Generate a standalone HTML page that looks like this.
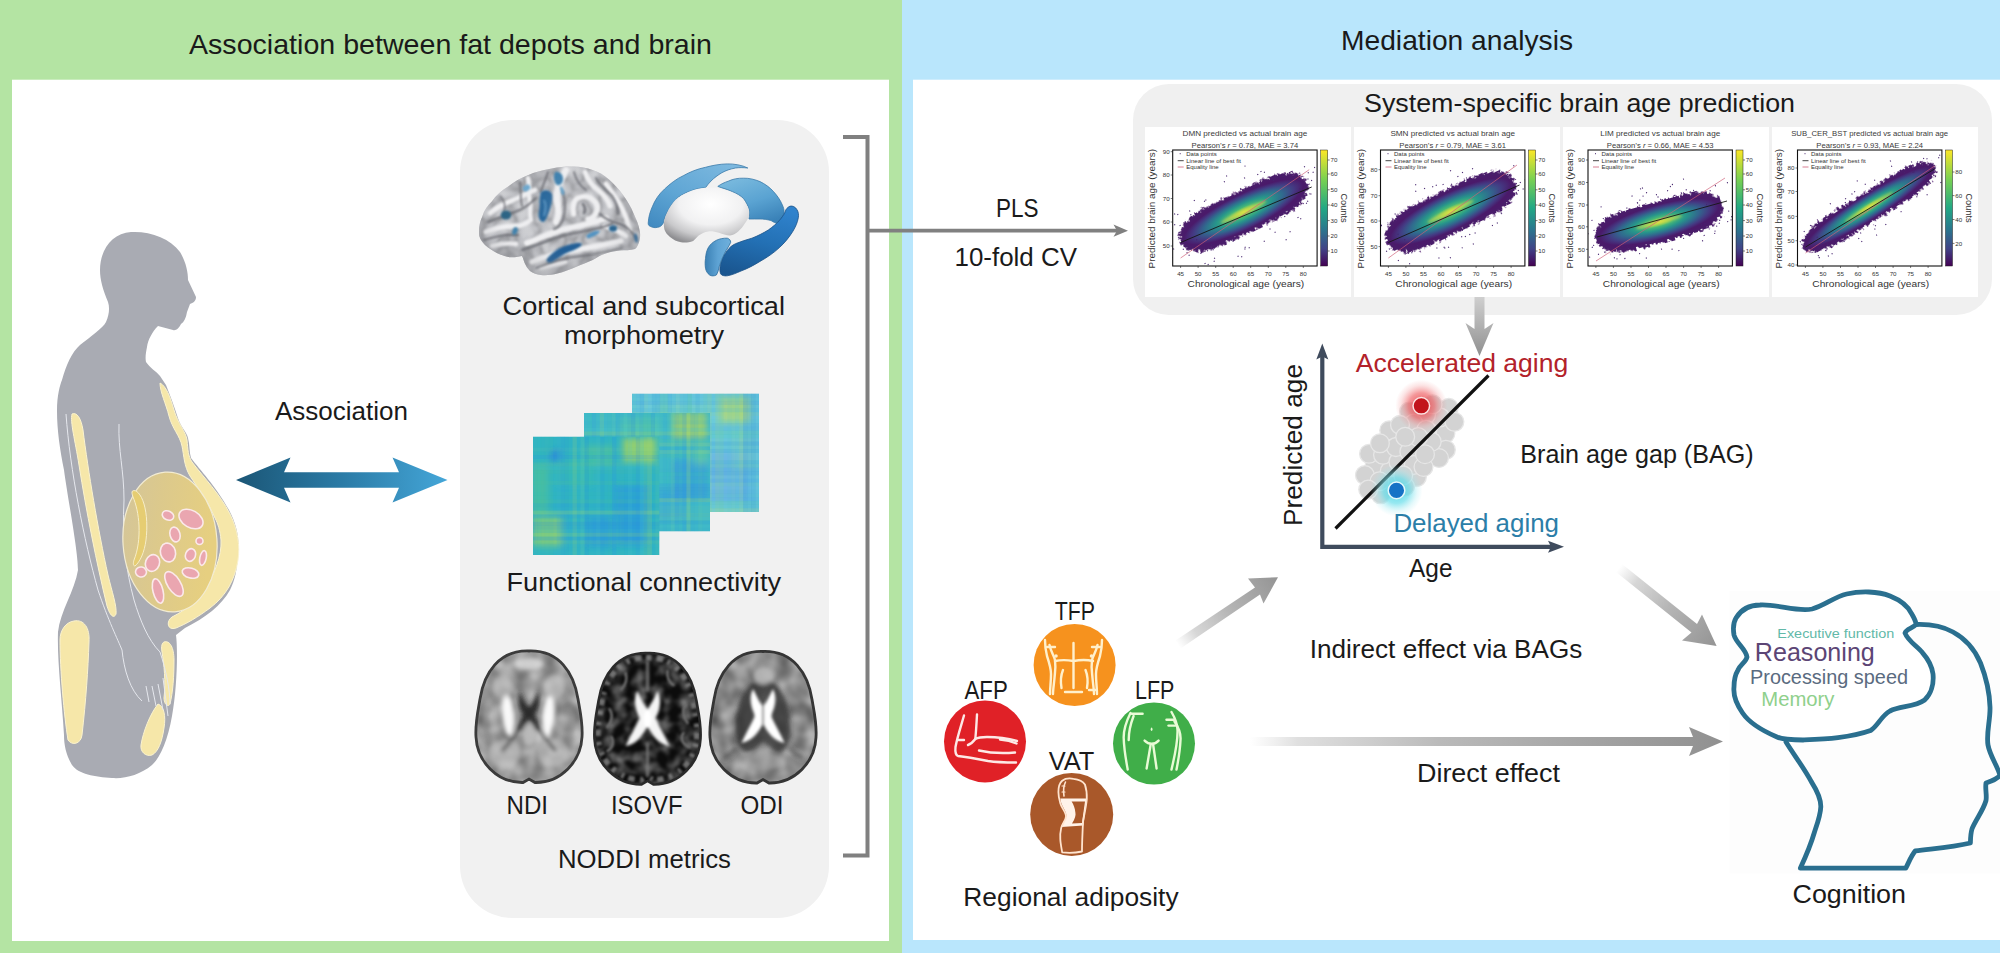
<!DOCTYPE html>
<html>
<head>
<meta charset="utf-8">
<title>Fat depots, brain age and cognition</title>
<style>
html,body{margin:0;padding:0;background:#fff;}
body{width:2000px;height:953px;overflow:hidden;font-family:"Liberation Sans",sans-serif;}
svg{display:block;position:absolute;left:0;top:0;}
text{font-family:"Liberation Sans",sans-serif;fill:#1a1a1a;}
</style>
</head>
<body>
<svg id="fig" width="2000" height="953" viewBox="0 0 2000 953">
<defs>
<linearGradient id="gArrow" x1="0" y1="0" x2="1" y2="0">
<stop offset="0" stop-color="#1b5676"/><stop offset="0.5" stop-color="#2b7ba6"/><stop offset="1" stop-color="#44a6d8"/>
</linearGradient>

<linearGradient id="gOrgan" x1="0" y1="0" x2="1" y2="0.3">
<stop offset="0" stop-color="#d3c59b"/><stop offset="0.45" stop-color="#dcc98c"/><stop offset="1" stop-color="#e6cf80"/>
</linearGradient>

<clipPath id="brainClip"><use href="#brainShape"/></clipPath>
<linearGradient id="gBrain" x1="0.2" y1="0" x2="0.6" y2="1">
<stop offset="0" stop-color="#d9dadd"/><stop offset="0.55" stop-color="#b9babf"/><stop offset="1" stop-color="#8f9197"/>
</linearGradient>
<filter id="fBrainTex" x="0" y="0" width="1" height="1" color-interpolation-filters="sRGB">
<feTurbulence type="turbulence" baseFrequency="0.06 0.05" numOctaves="2" seed="11" result="n"/>
<feColorMatrix in="n" type="matrix" values="1 0 0 0 0  1 0 0 0 0  1 0 0 0 0  0 0 0 0 1" result="g0"/>
<feComponentTransfer in="g0" result="g"><feFuncR type="table" tableValues="0.40 0.60 0.76 0.86 0.91 0.93 0.94"/><feFuncG type="table" tableValues="0.40 0.60 0.76 0.86 0.91 0.93 0.94"/><feFuncB type="table" tableValues="0.42 0.62 0.78 0.875 0.92 0.94 0.95"/></feComponentTransfer>
<feGaussianBlur in="g" stdDeviation="1.1"/>
</filter>
<filter id="fBlur1" x="-0.2" y="-0.2" width="1.4" height="1.4"><feGaussianBlur stdDeviation="0.9"/></filter>
<filter id="fBlur2" x="-0.2" y="-0.2" width="1.4" height="1.4"><feGaussianBlur stdDeviation="2"/></filter>
<linearGradient id="gCaud" x1="0" y1="1" x2="0.8" y2="0"><stop offset="0" stop-color="#3f88bf"/><stop offset="0.45" stop-color="#5ea5d4"/><stop offset="1" stop-color="#7cb8df"/></linearGradient>
<linearGradient id="gPut" x1="0.2" y1="0" x2="0.7" y2="1"><stop offset="0" stop-color="#7abade"/><stop offset="0.55" stop-color="#5aa3d2"/><stop offset="1" stop-color="#3a82b8"/></linearGradient>
<radialGradient id="gThal" cx="0.55" cy="0.3" r="0.75"><stop offset="0" stop-color="#ffffff"/><stop offset="0.5" stop-color="#f1f1f2"/><stop offset="0.78" stop-color="#c9c9cb"/><stop offset="1" stop-color="#8f8f92"/></radialGradient>
<linearGradient id="gHipp" x1="0.3" y1="1" x2="0.6" y2="0"><stop offset="0" stop-color="#1a5690"/><stop offset="0.5" stop-color="#2370b4"/><stop offset="1" stop-color="#2f82cc"/></linearGradient>
<linearGradient id="gAmy" x1="0" y1="0" x2="1" y2="0"><stop offset="0" stop-color="#3a80b4"/><stop offset="0.5" stop-color="#5ea3d4"/><stop offset="1" stop-color="#6fb0dc"/></linearGradient>

<radialGradient id="gBrainShade" cx="0.5" cy="0.36" r="0.6"><stop offset="0" stop-color="#ffffff" stop-opacity="0.12"/><stop offset="0.6" stop-color="#9a9ca2" stop-opacity="0"/><stop offset="1" stop-color="#5e6066" stop-opacity="0.34"/></radialGradient>
<filter id="fBlurM" x="-0.02" y="-0.02" width="1.04" height="1.04"><feGaussianBlur stdDeviation="0.6"/></filter>
<filter id="fBlur3" x="-0.5" y="-0.5" width="2" height="2"><feGaussianBlur stdDeviation="3.2"/></filter>
<clipPath id="cM1"><rect x="632" y="393.5" width="127" height="118.5"/></clipPath>
<clipPath id="cM2"><rect x="584" y="413" width="126" height="118.5"/></clipPath>
<clipPath id="cM3"><rect x="533" y="436.5" width="126.5" height="118.5"/></clipPath>
<path id="egg" d="M0,-66 C30,-67 45,-44 49,-18 C51,-6 54,6 53,20 C52,44 32,66 6,65.5 L0,62 L-6,65.5 C-32,66 -52,44 -53,20 C-54,6 -51,-6 -49,-18 C-45,-44 -30,-67 0,-66 Z"/>
<clipPath id="eggClip"><use href="#egg"/></clipPath>
<path id="ventX" d="M-10,-24 C-6,-16 -3,-9 0,-6 C3,-9 6,-16 10,-24 C15,-16 12,-4 8,3 C12,12 18,22 22,31 C12,30 4,20 0,11 C-4,20 -12,30 -22,31 C-18,22 -12,12 -8,3 C-12,-4 -15,-16 -10,-24 Z"/>
<filter id="fMriTex" x="0" y="0" width="1" height="1" color-interpolation-filters="sRGB">
<feTurbulence type="fractalNoise" baseFrequency="0.07" numOctaves="2" seed="3" result="n"/>
<feColorMatrix in="n" type="matrix" values="1.6 0 0 0 -0.3  1.6 0 0 0 -0.3  1.6 0 0 0 -0.3  0 0 0 0 1" result="c"/><feGaussianBlur in="c" stdDeviation="2.2"/>
</filter>
<filter id="fMriTex2" x="0" y="0" width="1" height="1" color-interpolation-filters="sRGB">
<feTurbulence type="fractalNoise" baseFrequency="0.09" numOctaves="2" seed="8" result="n"/>
<feColorMatrix in="n" type="matrix" values="2.2 0 0 0 -0.85  2.2 0 0 0 -0.85  2.2 0 0 0 -0.85  0 0 0 0 1" result="c"/><feGaussianBlur in="c" stdDeviation="1.6"/>
</filter>
<filter id="fBlur05" x="-0.1" y="-0.1" width="1.2" height="1.2"><feGaussianBlur stdDeviation="0.6"/></filter>

<linearGradient id="gDown" x1="0" y1="0" x2="0" y2="1"><stop offset="0" stop-color="#cfcfcf"/><stop offset="0.5" stop-color="#b0b0b0"/><stop offset="1" stop-color="#8f8f8f"/></linearGradient>
<linearGradient id="gInd1" gradientUnits="userSpaceOnUse" x1="1178" y1="645" x2="1278" y2="577"><stop offset="0" stop-color="#d8d8d8" stop-opacity="0"/><stop offset="0.18" stop-color="#d2d2d2" stop-opacity="0.9"/><stop offset="0.5" stop-color="#b6b6b6"/><stop offset="1" stop-color="#949494"/></linearGradient>
<linearGradient id="gInd2" gradientUnits="userSpaceOnUse" x1="1619" y1="568" x2="1716" y2="646"><stop offset="0" stop-color="#d8d8d8" stop-opacity="0"/><stop offset="0.18" stop-color="#d2d2d2" stop-opacity="0.9"/><stop offset="0.5" stop-color="#b6b6b6"/><stop offset="1" stop-color="#949494"/></linearGradient>
<linearGradient id="gDir" gradientUnits="userSpaceOnUse" x1="1250" y1="0" x2="1723" y2="0"><stop offset="0" stop-color="#e0e0e0" stop-opacity="0"/><stop offset="0.1" stop-color="#dcdcdc" stop-opacity="0.9"/><stop offset="0.4" stop-color="#bababa"/><stop offset="1" stop-color="#909090"/></linearGradient>
<radialGradient id="gGlowR"><stop offset="0" stop-color="#e8383e" stop-opacity="0.95"/><stop offset="0.5" stop-color="#ee5a5e" stop-opacity="0.62"/><stop offset="0.8" stop-color="#f28a8c" stop-opacity="0.22"/><stop offset="1" stop-color="#f28a8c" stop-opacity="0"/></radialGradient>
<radialGradient id="gGlowB"><stop offset="0" stop-color="#4ed6e6" stop-opacity="1"/><stop offset="0.5" stop-color="#6adeea" stop-opacity="0.7"/><stop offset="0.8" stop-color="#9ae8f0" stop-opacity="0.25"/><stop offset="1" stop-color="#9ae8f0" stop-opacity="0"/></radialGradient>

<clipPath id="cS0"><rect x="1172.7" y="150" width="144.4" height="116"/></clipPath>
<clipPath id="cS1"><rect x="1380.5" y="150" width="144.4" height="116"/></clipPath>
<clipPath id="cS2"><rect x="1588" y="150" width="144.4" height="116"/></clipPath>
<clipPath id="cS3"><rect x="1797.5" y="150" width="144.4" height="116"/></clipPath>
<radialGradient id="gVir" cx="0.5" cy="0.5" r="0.5">
<stop offset="0" stop-color="#cfdc46"/><stop offset="0.1" stop-color="#9ad24c"/><stop offset="0.26" stop-color="#46b877"/><stop offset="0.46" stop-color="#27958b"/><stop offset="0.66" stop-color="#31688e"/><stop offset="0.84" stop-color="#443a83"/><stop offset="1" stop-color="#4a1a6a"/></radialGradient>
<linearGradient id="gVirBar" x1="0" y1="0" x2="0" y2="1"><stop offset="0" stop-color="#fde725"/><stop offset="0.25" stop-color="#7ad151"/><stop offset="0.5" stop-color="#22a884"/><stop offset="0.68" stop-color="#2a788e"/><stop offset="0.85" stop-color="#414487"/><stop offset="1" stop-color="#440154"/></linearGradient>
<filter id="fRag" x="-0.2" y="-0.4" width="1.4" height="1.8"><feTurbulence type="fractalNoise" baseFrequency="0.35" numOctaves="2" seed="5" result="t"/><feDisplacementMap in="SourceGraphic" in2="t" scale="9" xChannelSelector="R" yChannelSelector="G"/></filter>

<filter id="fBlur15" x="-0.3" y="-0.3" width="1.6" height="1.6"><feGaussianBlur stdDeviation="1.5"/></filter>
<!--DEFS-->
</defs>

<!-- ===== panel backgrounds ===== -->
<g id="panels">
<rect x="0" y="0" width="902" height="953" fill="#b4e4a3"/>
<rect x="902" y="0" width="1098" height="953" fill="#b9e6fc"/>
<rect x="12" y="79.7" width="877" height="861.3" fill="#ffffff"/>
<rect x="913" y="79.7" width="1087" height="860.3" fill="#ffffff"/>
</g>

<!-- ===== headings ===== -->
<g id="headings">
<text x="189" y="54.4" font-size="28" textLength="523" lengthAdjust="spacingAndGlyphs">Association between fat depots and brain</text>
<text x="1341" y="50" font-size="28" textLength="232" lengthAdjust="spacingAndGlyphs">Mediation analysis</text>
</g>

<!-- ===== LEFT PANEL ===== -->
<g id="left">
<!-- body silhouette -->
<g id="body">
<path id="bodyshape" fill="#a9abb3" d="M131,232 C150,231 170,238 180,252 C186,262 188,272 188,280 L196,297 C196,301 193,303 190,304 L187,312 C186,318 184,322 181,324 C179,328 176,331 173,330 L158,326 C152,332 148,340 147,347 C146,352 145,358 146,362 C150,368 156,371 160,376 L166,385 C172,400 176,412 179,421 C182,428 187,433 188,438 C190,445 189,452 191,458 C200,470 215,485 229,510 C237,525 240,540 238,555 C237,570 235,580 230,590 C222,605 205,618 185,628 L176,635 C178,650 177,690 172,716 C168,740 160,758 152,765 C140,775 125,779 112,778 C95,777 78,774 72,765 C66,755 64,745 64,735 C62,700 57,660 58,632 C60,612 75,590 78,570 C78,550 68,500 64,470 C60,450 57,430 57,411 C57,395 60,385 62,380 C66,365 72,352 80,345 C90,337 103,328 106,322 C109,315 110,308 108,302 C103,290 100,280 100,270 C100,250 112,233 131,232 Z"/>
<!-- fat strips -->
<g fill="#f6e7a9" stroke="#fbf3cf" stroke-width="1">
<path d="M72,414 C77,412 81,418 83,430 C88,470 98,530 108,575 C112,592 117,606 116,614 C114,619 110,616 107,606 C97,565 86,510 79,465 C75,440 70,422 72,414 Z"/>
<path d="M160,383 C166,386 170,396 174,410 C178,424 186,432 187,440 C188,450 188,456 192,462 C204,478 220,494 230,514 C238,530 240,546 238,560 C235,580 226,596 210,608 C198,617 186,624 176,628 C167,631 166,621 172,617 C186,610 198,600 206,588 C214,574 222,556 221,540 C220,530 218,524 215,518 C208,502 198,488 190,476 C184,466 184,456 182,446 C180,436 172,428 169,416 C166,404 160,392 160,383 Z"/>
<path d="M74,621 C84,619 90,628 89,642 C88,670 86,700 82,735 C81,744 72,746 68,740 C64,715 60,670 60,640 C60,630 66,622 74,621 Z"/>
<path d="M158,704 C164,706 166,716 164,728 C162,742 158,752 152,755 C146,757 140,752 141,745 C143,732 150,714 158,704 Z"/>
<path d="M164,642 C170,640 174,648 174,660 C174,676 173,692 170,704 C168,708 164,704 164,698 C166,682 164,664 162,652 C161,646 162,643 164,642 Z"/>
</g>
<!-- thin white contour lines -->
<g fill="none" stroke="#e6e8ee" stroke-width="1">
<path d="M66,414 C70,470 84,540 98,590 C108,620 118,640 122,650"/>
<path d="M119,424 C118,450 124,470 124,500 C122,540 126,570 134,600 C140,620 148,640 160,652 C166,670 170,690 170,704"/>
<path d="M122,650 C124,670 130,690 142,701 M146,686 L149,702 M152,686 L156,706 M158,684 L163,710 M163,678 L168,716"/>
</g>
<!-- visceral cavity -->
<ellipse cx="170" cy="542" rx="47" ry="70" fill="url(#gOrgan)" stroke="#f3ecd2" stroke-width="1.2" transform="rotate(-4 170 542)"/>
<path d="M132.5,491 C136,489 141,494 144,504 C147,514 147.5,528 146,540 C144.5,552 140,562 135,566 C133,566 133,563 134,560 C138,550 139.5,538 139,526 C138.5,514 136,504 133,497 C132,494 131.5,492 132.5,491 Z" fill="#e6cd72" stroke="#f7eec8" stroke-width="1"/>
<g fill="#eaa6b0" stroke="#fbe9ea" stroke-width="1.6">
<ellipse cx="191" cy="519" rx="13" ry="8.5" transform="rotate(30 191 519)"/>
<ellipse cx="168" cy="515.5" rx="6" ry="4.5" transform="rotate(25 168 515.5)"/>
<ellipse cx="175" cy="534.5" rx="5" ry="7.5" transform="rotate(-15 175 534.5)"/>
<ellipse cx="199.5" cy="541" rx="3.5" ry="3.5"/>
<ellipse cx="168" cy="552.5" rx="7.5" ry="9.5" transform="rotate(-15 168 552.5)"/>
<ellipse cx="190.5" cy="555" rx="5" ry="6.5" transform="rotate(20 190.5 555)"/>
<ellipse cx="203" cy="558" rx="3.2" ry="7.5" transform="rotate(12 203 558)"/>
<ellipse cx="152.5" cy="563" rx="7" ry="8.5" transform="rotate(20 152.5 563)"/>
<ellipse cx="141" cy="572" rx="5.5" ry="5" transform="rotate(10 141 572)"/>
<ellipse cx="190.5" cy="573" rx="8.5" ry="5" transform="rotate(15 190.5 573)"/>
<ellipse cx="174" cy="584" rx="6.5" ry="14" transform="rotate(-32 174 584)"/>
<ellipse cx="158" cy="591" rx="5" ry="12.5" transform="rotate(-14 158 591)"/>
</g>
</g>

<!-- association arrow -->
<text x="275" y="420" font-size="25" textLength="133" lengthAdjust="spacingAndGlyphs">Association</text>
<path fill="url(#gArrow)" d="M236,480 L290.5,457.5 L284,472.3 L399,472.3 L392.5,457.5 L447.5,480 L392.5,502.5 L399,487.7 L284,487.7 L290.5,502.5 Z"/>

<!-- grey rounded container -->
<rect x="460" y="120" width="369" height="798" rx="52" ry="52" fill="#f1f1f1"/>

<!-- cortical brain -->
<g id="cortex">
<path id="brainShape" d="M479,231.5 C479,226 480,221 482.3,216.4 C484,210 488,205 491.8,201.4 C496,195 502,190 508.2,186.4 C514,182 520,178 527.3,175.5 C535,172 543,170 551.8,168.6 C559,167 566,166.5 573.6,166.6 C580,166.6 587,168 592.7,170 C599,172 604,175 609,179.5 C614,184 619,189 622.7,194.5 C627,200 631,207 633.6,213.6 C636,219 639,225 639.8,231.4 C640.5,235 640,239 639,242.3 C638,245 637,247.5 635,249 C630,250.5 625,250 620,250.5 C615,251 611,252 606.4,253.2 C601,255 597,257.5 592.7,260 C587,262.5 582,264.5 576.4,266.8 C570,269.5 564,272 557.3,273.6 C552,275 546,275.5 540.9,275 C537,274.5 533,273 530,270.9 C527.5,268.5 526,266 524.5,262.7 C523.5,260 523,257.5 521.8,255.9 C518,256.5 514.5,257.5 510.9,257.3 C506,257 501.5,255 497.3,253.2 C493,251 489,248.5 485,245 C482.5,242.5 480.5,240 479.5,236.8 C479,235 479,233 479,231.5 Z" fill="#c0c1c5"/>
<g clip-path="url(#brainClip)">
<rect x="470" y="160" width="180" height="125" filter="url(#fBrainTex)" opacity="0.45"/>
<g fill="none" stroke="#f0f0f2" stroke-linecap="round" stroke-linejoin="round" filter="url(#fBlur1)">
<path d="M566,170 C560,180 556,190 557,200 C558,208 560,214 556,222" stroke-width="6.5"/>
<path d="M573.6,214 C572,206 574,200 578,198 C583,195.5 589,196 592,199 C597,203 599,208 596,213 C594,217 591,219 588,219" stroke-width="5.5"/>
<path d="M527,243 C540,238 552,232 565,229 C580,226 594,223 606,218" stroke-width="6"/>
<path d="M532,262 C546,256 560,252 576,250 C592,247 606,245 621,241" stroke-width="5.5"/>
<path d="M490,213 C498,206 508,202 518,198 C524,195 530,192 535,190" stroke-width="5"/>
<path d="M486,232 C496,228 506,226 516,226 C521,226 525,224 528,222" stroke-width="5"/>
<path d="M492,246 C500,244 508,243 516,244" stroke-width="4.5"/>
<path d="M528,178 C530,186 528,194 530,202 C531,208 529,214 531,220" stroke-width="4.5"/>
<path d="M585,172 C588,180 592,186 598,190 C604,195 608,200 610,206" stroke-width="5"/>
<path d="M606,184 C612,192 618,200 622,208 C625,214 628,222 630,230" stroke-width="5"/>
<path d="M604,226 C610,228 618,230 626,236" stroke-width="4.5"/>
<path d="M541,268 C550,266 558,264 566,262" stroke-width="4"/>
</g>
<g fill="none" stroke="#62636a" stroke-linecap="round" stroke-linejoin="round" opacity="0.85" filter="url(#fBlur1)">
<path d="M548,172 C546,180 542,186 541,192" stroke-width="2"/>
<path d="M563,192 C565,200 566,210 563,220 C561,224 558,228 554,229" stroke-width="2.2"/>
<path d="M583,204 C585,207 586,210 584,213" stroke-width="3"/>
<path d="M522,250 C536,246 548,240 562,236 C578,232 596,230 612,224" stroke-width="2.2"/>
<path d="M536,268 C550,262 566,257 582,256 C596,254 610,251 622,248" stroke-width="1.8"/>
<path d="M488,222 C498,218 510,214 520,210 C526,207 532,202 536,198" stroke-width="2"/>
<path d="M484,240 C494,237 506,234 518,235" stroke-width="2"/>
<path d="M520,182 C521,190 520,198 522,206" stroke-width="1.8"/>
<path d="M596,178 C600,186 606,190 612,196 C616,202 618,208 618,214" stroke-width="2"/>
<path d="M574,172 C576,180 580,186 586,190" stroke-width="1.8"/>
<path d="M600,214 C606,220 612,222 620,224 C626,226 632,232 636,238" stroke-width="2"/>
<path d="M500,196 C504,200 506,206 504,212" stroke-width="1.6"/>
</g>
<g filter="url(#fBlur1)">
<path d="M541,192 C545,189 550,190 552,194 C553,200 551,206 549,212 C547,217 546,221 543,222 C539,221 538,216 539,211 C540,205 539,198 541,192 Z" fill="#1d5f96"/>
<path d="M544,200 C546,204 546,210 544,216" stroke="#4f93c4" stroke-width="1.6" fill="none"/>
<path d="M555,172 C559,171 563,174 563,179 C563,183 560,186 557,185 C554,183 553,176 555,172 Z" fill="#3a7fae"/>
<path d="M560,186 C563,187 565,191 564,195 C562,196 560,192 560,186 Z" fill="#5c9cc6"/>
<ellipse cx="526.5" cy="188" rx="4" ry="3" fill="#6ba7cf" transform="rotate(-30 526.5 188)"/>
<ellipse cx="506" cy="215" rx="5.2" ry="4.6" fill="#2a6384"/>
<ellipse cx="515" cy="231" rx="2.5" ry="4" fill="#3f82ad" transform="rotate(20 515 231)"/>
<path d="M547,259 C552,252 560,247 570,244.5 C575,243 580,242.5 582,244 C580,248 574,250 568,252.5 C562,255 556,260 551,262.5 C548,263 546,261.5 547,259 Z" fill="#225f96"/>
<path d="M586,236 C590,232 596,230 600,231 C598,235 592,237 588,238.5 Z" fill="#4f93c4"/>
<ellipse cx="613" cy="228.5" rx="4" ry="3.2" fill="#2a6590"/>
<path d="M634.5,233 C637,234 638.5,238 637.5,243 C635,243 633.5,238 634.5,233 Z" fill="#2e6ea2"/>
</g>
<rect x="470" y="160" width="180" height="125" fill="url(#gBrainShade)"/>
</g>
</g>

<!-- subcortical structures -->
<g id="subcort">
<path d="M648.2,223.2 C648.5,217 650,212 652.3,206.8 C655,200 659,194 664.6,189 C670,184 676,179 683.7,175.5 C690,172 697,169 705.5,167.3 C712,165.5 720,164 727.3,163.9 C734,163.8 742,165 747.8,168 C743,167.5 739,167.5 735.5,168 C730,169 726,170.5 721.9,172.7 C718,175 714,178 711,181 C709,183 707,185.5 705.5,187.7 C700,188 696,189 691.8,190.5 C686,192.5 682,194.5 678.2,197.3 C674,201 671,205 668.7,209.6 C666,214 664,219 663.2,223.2 C662,225.5 660,227 657.7,227.3 C655,228 652.5,227.5 650.9,226.6 C649,226 648.2,225 648.2,223.2 Z" fill="url(#gCaud)" stroke="#3a7aaa" stroke-width="0.8"/>
<path d="M717.8,186.4 C721,184 724.5,182.5 728.7,181 C733,179 738,178 743.7,178.2 C749,178 755,179.5 760,181.6 C765,184 770,187.5 773.7,191.8 C777,195.5 780,199.5 781.9,204 C783.5,207 784.5,210.5 784,213.7 C783,217.5 780,221 776.4,223.2 C774,222.5 772.5,221.5 771,220.5 C767,219.5 763.5,219 760,219 C756,219 752.5,219 749,219 C749.5,215.5 749.5,212.5 749,209.6 C748,205.5 746,202 743.7,198.7 C740.5,195.5 737,193.5 732.8,191.8 C728,189.5 722,188 717.8,186.4 Z" fill="url(#gPut)" stroke="#3a7aaa" stroke-width="0.8"/>
<path d="M663.9,223.2 C664.5,219 665.5,215.5 667.3,212.3 C669.5,207.5 672,203.5 675.5,200 C679.5,196.5 684,194 689,191.8 C694,189.5 700,188 705.5,187.7 C711,187.3 716.5,187.8 721.9,189 C728,190.5 733.5,192.8 738.2,196 C742,199 745.5,202.5 747.8,206.8 C749,209.5 749.5,212.5 749,215 C748.5,218 747,220.8 745,223.2 C743,226.5 741,229 738.2,231.4 C735.5,233.5 733,235 730,235.5 C726,235.5 722.5,234 719,232.8 C715.5,231.8 712,231 708.2,231.4 C704.5,232 701.5,233.5 698.7,235.5 C696.5,237.5 695,239.5 693.2,241 C689,242.5 685,243 681,242.3 C677,241.5 673,239.5 670,236.9 C667.5,235 665.5,232.5 664.6,230 C664,227.5 663.7,225.5 663.9,223.2 Z" fill="url(#gThal)"/>
<path d="M790,206.2 C792.5,205.5 795.5,207 796.9,209.6 C798.5,212 798.8,215 798.3,217.8 C797.5,222.5 795.5,227 792.8,231.4 C789,237.5 784.5,243 779.2,247.8 C773.5,253 767,257.5 760,261.4 C754,265 748,268.5 741,271 C736.5,273 732,275 727.3,275.8 C724.5,276.2 721.5,275.5 720.5,273.7 C719.5,270.5 719.8,267.5 720.5,264.2 C722,259 724,254.5 727.3,250.5 C729.5,247.5 732,245.3 735.5,243.7 C740.5,241.5 746,240 751.9,238.2 C757.5,236 763,233.3 768.3,230 C772.5,227 777,223.5 780.5,219.1 C783,216 785,213 786,209.6 C787,208 788.5,206.8 790,206.2 Z" fill="url(#gHipp)" stroke="#1b5288" stroke-width="0.8"/>
<path d="M705.5,258.7 C705.8,254.5 706.5,251 708.2,247.8 C710,244.5 713,242 716.4,240.3 C719.5,238.8 723.5,238 727.3,238.2 C729.5,238.8 730.7,240.5 730.7,242.3 C729,246.5 726.5,249.5 724.6,253.2 C722.5,257.5 720.5,262 719.1,266.9 C718.5,270 717.8,272.8 716.4,275 C714,276.2 711.5,276.2 709.6,275 C707.5,273.5 706,271 705.5,268.3 C705,265 705,261.5 705.5,258.7 Z" fill="url(#gAmy)" stroke="#2f6f9f" stroke-width="0.8"/>
</g>

<!-- functional connectivity matrices -->
<g id="fcmats">
<g clip-path="url(#cM1)"><rect x="632" y="393.5" width="127" height="118.5" fill="#6ecbdc"/>
<g filter="url(#fBlur3)">
<rect x="720.0" y="397.0" width="30" height="26" fill="#c6dc58" opacity="0.62"/>
<rect x="709.0" y="451.0" width="40" height="50" fill="#6aa8ea" opacity="0.55"/>
<rect x="655.0" y="405.0" width="50" height="30" fill="#7fd6b8" opacity="0.4"/>
<rect x="735.0" y="430.0" width="20" height="40" fill="#8fd8b0" opacity="0.35"/>
</g>
<rect x="632.0" y="393.5" width="4.3" height="118.5" fill="#35c2b4" opacity="0.11"/>
<rect x="632" y="393.5" width="127" height="4.0" fill="#2fa0d8" opacity="0.15"/>
<rect x="636.0" y="393.5" width="4.3" height="118.5" fill="#2b8fd8" opacity="0.08"/>
<rect x="632" y="397.2" width="127" height="4.0" fill="#3ab0d0" opacity="0.14"/>
<rect x="639.9" y="393.5" width="4.3" height="118.5" fill="#2a96e0" opacity="0.19"/>
<rect x="632" y="400.9" width="127" height="4.0" fill="#2b8fd8" opacity="0.17"/>
<rect x="643.9" y="393.5" width="4.3" height="118.5" fill="#a5d870" opacity="0.07"/>
<rect x="632" y="404.6" width="127" height="4.0" fill="#48c0a0" opacity="0.06"/>
<rect x="632" y="408.3" width="127" height="4.0" fill="#3ab0d0" opacity="0.19"/>
<rect x="651.8" y="393.5" width="4.3" height="118.5" fill="#2fa0d8" opacity="0.23"/>
<rect x="632" y="412.0" width="127" height="4.0" fill="#a5d870" opacity="0.1"/>
<rect x="655.8" y="393.5" width="4.3" height="118.5" fill="#2fa0d8" opacity="0.23"/>
<rect x="659.8" y="393.5" width="4.3" height="118.5" fill="#48c0a0" opacity="0.23"/>
<rect x="632" y="419.4" width="127" height="4.0" fill="#4fc8c8" opacity="0.08"/>
<rect x="663.8" y="393.5" width="4.3" height="118.5" fill="#48c0a0" opacity="0.23"/>
<rect x="632" y="423.1" width="127" height="4.0" fill="#2b8fd8" opacity="0.11"/>
<rect x="667.7" y="393.5" width="4.3" height="118.5" fill="#2fa0d8" opacity="0.21"/>
<rect x="632" y="426.8" width="127" height="4.0" fill="#2a96e0" opacity="0.15"/>
<rect x="671.7" y="393.5" width="4.3" height="118.5" fill="#3ab0d0" opacity="0.13"/>
<rect x="632" y="430.5" width="127" height="4.0" fill="#48c0a0" opacity="0.22"/>
<rect x="675.7" y="393.5" width="4.3" height="118.5" fill="#a5d870" opacity="0.08"/>
<rect x="632" y="434.2" width="127" height="4.0" fill="#35c2b4" opacity="0.2"/>
<rect x="679.6" y="393.5" width="4.3" height="118.5" fill="#3ab0d0" opacity="0.13"/>
<rect x="632" y="437.9" width="127" height="4.0" fill="#2fa0d8" opacity="0.07"/>
<rect x="683.6" y="393.5" width="4.3" height="118.5" fill="#3ab0d0" opacity="0.18"/>
<rect x="632" y="441.6" width="127" height="4.0" fill="#2b8fd8" opacity="0.24"/>
<rect x="687.6" y="393.5" width="4.3" height="118.5" fill="#48c0a0" opacity="0.23"/>
<rect x="632" y="445.3" width="127" height="4.0" fill="#3ab0d0" opacity="0.15"/>
<rect x="632" y="449.0" width="127" height="4.0" fill="#2fa0d8" opacity="0.22"/>
<rect x="695.5" y="393.5" width="4.3" height="118.5" fill="#2a96e0" opacity="0.13"/>
<rect x="703.4" y="393.5" width="4.3" height="118.5" fill="#74d2a0" opacity="0.15"/>
<rect x="632" y="460.2" width="127" height="4.0" fill="#3ab0d0" opacity="0.23"/>
<rect x="707.4" y="393.5" width="4.3" height="118.5" fill="#a5d870" opacity="0.16"/>
<rect x="632" y="463.9" width="127" height="4.0" fill="#48c0a0" opacity="0.13"/>
<rect x="632" y="467.6" width="127" height="4.0" fill="#2a96e0" opacity="0.16"/>
<rect x="715.3" y="393.5" width="4.3" height="118.5" fill="#a5d870" opacity="0.14"/>
<rect x="632" y="471.3" width="127" height="4.0" fill="#2b8fd8" opacity="0.17"/>
<rect x="719.3" y="393.5" width="4.3" height="118.5" fill="#74d2a0" opacity="0.21"/>
<rect x="632" y="475.0" width="127" height="4.0" fill="#4fc8c8" opacity="0.07"/>
<rect x="632" y="478.7" width="127" height="4.0" fill="#2a96e0" opacity="0.14"/>
<rect x="727.2" y="393.5" width="4.3" height="118.5" fill="#4fc8c8" opacity="0.1"/>
<rect x="632" y="482.4" width="127" height="4.0" fill="#74d2a0" opacity="0.12"/>
<rect x="731.2" y="393.5" width="4.3" height="118.5" fill="#74d2a0" opacity="0.11"/>
<rect x="735.2" y="393.5" width="4.3" height="118.5" fill="#4fc8c8" opacity="0.14"/>
<rect x="632" y="489.8" width="127" height="4.0" fill="#2fa0d8" opacity="0.08"/>
<rect x="739.2" y="393.5" width="4.3" height="118.5" fill="#a5d870" opacity="0.14"/>
<rect x="632" y="493.5" width="127" height="4.0" fill="#35c2b4" opacity="0.11"/>
<rect x="743.1" y="393.5" width="4.3" height="118.5" fill="#2b8fd8" opacity="0.23"/>
<rect x="632" y="497.2" width="127" height="4.0" fill="#2a96e0" opacity="0.1"/>
<rect x="747.1" y="393.5" width="4.3" height="118.5" fill="#2a96e0" opacity="0.19"/>
<rect x="632" y="500.9" width="127" height="4.0" fill="#48c0a0" opacity="0.18"/>
<rect x="751.1" y="393.5" width="4.3" height="118.5" fill="#2b8fd8" opacity="0.24"/>
<rect x="632" y="504.6" width="127" height="4.0" fill="#48c0a0" opacity="0.14"/>
<rect x="755.0" y="393.5" width="4.3" height="118.5" fill="#2a96e0" opacity="0.13"/>
<rect x="632" y="508.3" width="127" height="4.0" fill="#a5d870" opacity="0.18"/>
</g>
<g clip-path="url(#cM2)"><rect x="584" y="413" width="126" height="118.5" fill="#3fb9c8"/>
<g filter="url(#fBlur3)">
<rect x="672.5" y="413.0" width="34" height="26" fill="#c8d848" opacity="0.66"/>
<rect x="620.0" y="418.0" width="40" height="24" fill="#62cc9a" opacity="0.5"/>
<rect x="672.0" y="460.0" width="36" height="40" fill="#3a92e0" opacity="0.5"/>
<rect x="635.0" y="490.0" width="50" height="30" fill="#3a9ce0" opacity="0.4"/>
<rect x="692.0" y="445.0" width="16" height="20" fill="#7fd88a" opacity="0.4"/>
</g>
<rect x="587.9" y="413" width="4.2" height="118.5" fill="#35c2b4" opacity="0.12"/>
<rect x="584" y="416.7" width="126" height="4.0" fill="#4fc8c8" opacity="0.11"/>
<rect x="591.9" y="413" width="4.2" height="118.5" fill="#2a96e0" opacity="0.16"/>
<rect x="584" y="420.4" width="126" height="4.0" fill="#3ab0d0" opacity="0.17"/>
<rect x="599.8" y="413" width="4.2" height="118.5" fill="#a5d870" opacity="0.16"/>
<rect x="584" y="427.8" width="126" height="4.0" fill="#4fc8c8" opacity="0.22"/>
<rect x="584" y="431.5" width="126" height="4.0" fill="#a5d870" opacity="0.22"/>
<rect x="607.6" y="413" width="4.2" height="118.5" fill="#48c0a0" opacity="0.09"/>
<rect x="584" y="435.2" width="126" height="4.0" fill="#2b8fd8" opacity="0.06"/>
<rect x="611.6" y="413" width="4.2" height="118.5" fill="#74d2a0" opacity="0.15"/>
<rect x="584" y="438.9" width="126" height="4.0" fill="#48c0a0" opacity="0.18"/>
<rect x="615.5" y="413" width="4.2" height="118.5" fill="#2fa0d8" opacity="0.2"/>
<rect x="584" y="442.6" width="126" height="4.0" fill="#a5d870" opacity="0.2"/>
<rect x="619.4" y="413" width="4.2" height="118.5" fill="#2fa0d8" opacity="0.09"/>
<rect x="584" y="446.3" width="126" height="4.0" fill="#2fa0d8" opacity="0.18"/>
<rect x="623.4" y="413" width="4.2" height="118.5" fill="#4fc8c8" opacity="0.23"/>
<rect x="584" y="450.0" width="126" height="4.0" fill="#a5d870" opacity="0.18"/>
<rect x="627.3" y="413" width="4.2" height="118.5" fill="#2fa0d8" opacity="0.12"/>
<rect x="584" y="453.7" width="126" height="4.0" fill="#48c0a0" opacity="0.19"/>
<rect x="631.2" y="413" width="4.2" height="118.5" fill="#2b8fd8" opacity="0.23"/>
<rect x="639.1" y="413" width="4.2" height="118.5" fill="#2fa0d8" opacity="0.12"/>
<rect x="643.1" y="413" width="4.2" height="118.5" fill="#48c0a0" opacity="0.16"/>
<rect x="584" y="468.5" width="126" height="4.0" fill="#3ab0d0" opacity="0.12"/>
<rect x="647.0" y="413" width="4.2" height="118.5" fill="#48c0a0" opacity="0.13"/>
<rect x="584" y="472.2" width="126" height="4.0" fill="#35c2b4" opacity="0.2"/>
<rect x="650.9" y="413" width="4.2" height="118.5" fill="#2a96e0" opacity="0.22"/>
<rect x="584" y="476.0" width="126" height="4.0" fill="#35c2b4" opacity="0.07"/>
<rect x="654.9" y="413" width="4.2" height="118.5" fill="#4fc8c8" opacity="0.17"/>
<rect x="584" y="479.7" width="126" height="4.0" fill="#35c2b4" opacity="0.2"/>
<rect x="658.8" y="413" width="4.2" height="118.5" fill="#4fc8c8" opacity="0.1"/>
<rect x="584" y="483.4" width="126" height="4.0" fill="#2a96e0" opacity="0.14"/>
<rect x="662.8" y="413" width="4.2" height="118.5" fill="#2a96e0" opacity="0.07"/>
<rect x="584" y="487.1" width="126" height="4.0" fill="#2b8fd8" opacity="0.18"/>
<rect x="666.7" y="413" width="4.2" height="118.5" fill="#35c2b4" opacity="0.06"/>
<rect x="584" y="490.8" width="126" height="4.0" fill="#2a96e0" opacity="0.13"/>
<rect x="670.6" y="413" width="4.2" height="118.5" fill="#74d2a0" opacity="0.19"/>
<rect x="584" y="494.5" width="126" height="4.0" fill="#2a96e0" opacity="0.13"/>
<rect x="674.6" y="413" width="4.2" height="118.5" fill="#2b8fd8" opacity="0.09"/>
<rect x="584" y="498.2" width="126" height="4.0" fill="#a5d870" opacity="0.23"/>
<rect x="678.5" y="413" width="4.2" height="118.5" fill="#35c2b4" opacity="0.11"/>
<rect x="584" y="501.9" width="126" height="4.0" fill="#4fc8c8" opacity="0.14"/>
<rect x="682.4" y="413" width="4.2" height="118.5" fill="#2a96e0" opacity="0.22"/>
<rect x="584" y="505.6" width="126" height="4.0" fill="#74d2a0" opacity="0.15"/>
<rect x="686.4" y="413" width="4.2" height="118.5" fill="#a5d870" opacity="0.21"/>
<rect x="584" y="509.3" width="126" height="4.0" fill="#74d2a0" opacity="0.15"/>
<rect x="690.3" y="413" width="4.2" height="118.5" fill="#2fa0d8" opacity="0.15"/>
<rect x="584" y="513.0" width="126" height="4.0" fill="#a5d870" opacity="0.11"/>
<rect x="694.2" y="413" width="4.2" height="118.5" fill="#3ab0d0" opacity="0.18"/>
<rect x="584" y="516.7" width="126" height="4.0" fill="#74d2a0" opacity="0.18"/>
<rect x="698.2" y="413" width="4.2" height="118.5" fill="#74d2a0" opacity="0.09"/>
<rect x="584" y="520.4" width="126" height="4.0" fill="#2b8fd8" opacity="0.15"/>
<rect x="584" y="527.8" width="126" height="4.0" fill="#2fa0d8" opacity="0.07"/>
</g>
<g clip-path="url(#cM3)"><rect x="533" y="436.5" width="126.5" height="118.5" fill="#2fb3c4"/>
<g filter="url(#fBlur3)">
<rect x="550.5" y="450.5" width="11" height="11" fill="#2a7ee0" opacity="0.85"/>
<rect x="622.5" y="438.0" width="34" height="24" fill="#b8d850" opacity="0.7"/>
<rect x="585.0" y="445.0" width="30" height="20" fill="#5cc890" opacity="0.5"/>
<rect x="615.0" y="485.0" width="34" height="30" fill="#2a92e2" opacity="0.55"/>
<rect x="617.0" y="515.0" width="30" height="30" fill="#2a8ee2" opacity="0.55"/>
<rect x="587.0" y="517.0" width="26" height="30" fill="#2a92e2" opacity="0.5"/>
<rect x="533.0" y="516.5" width="30" height="30" fill="#a2d460" opacity="0.66"/>
<rect x="532.0" y="465.0" width="16" height="50" fill="#5cc88a" opacity="0.5"/>
<rect x="555.0" y="455.0" width="40" height="30" fill="#3cc0a8" opacity="0.35"/>
</g>
<rect x="533.0" y="436.5" width="4.3" height="118.5" fill="#48c0a0" opacity="0.08"/>
<rect x="537.0" y="436.5" width="4.3" height="118.5" fill="#35c2b4" opacity="0.17"/>
<rect x="540.9" y="436.5" width="4.3" height="118.5" fill="#48c0a0" opacity="0.1"/>
<rect x="544.9" y="436.5" width="4.3" height="118.5" fill="#48c0a0" opacity="0.15"/>
<rect x="533" y="447.6" width="126.5" height="4.0" fill="#74d2a0" opacity="0.1"/>
<rect x="548.8" y="436.5" width="4.3" height="118.5" fill="#48c0a0" opacity="0.13"/>
<rect x="533" y="451.3" width="126.5" height="4.0" fill="#35c2b4" opacity="0.09"/>
<rect x="533" y="455.0" width="126.5" height="4.0" fill="#2a96e0" opacity="0.21"/>
<rect x="556.7" y="436.5" width="4.3" height="118.5" fill="#3ab0d0" opacity="0.19"/>
<rect x="560.7" y="436.5" width="4.3" height="118.5" fill="#2fa0d8" opacity="0.23"/>
<rect x="533" y="462.4" width="126.5" height="4.0" fill="#a5d870" opacity="0.08"/>
<rect x="564.6" y="436.5" width="4.3" height="118.5" fill="#2b8fd8" opacity="0.11"/>
<rect x="533" y="466.1" width="126.5" height="4.0" fill="#4fc8c8" opacity="0.14"/>
<rect x="533" y="469.8" width="126.5" height="4.0" fill="#48c0a0" opacity="0.17"/>
<rect x="572.5" y="436.5" width="4.3" height="118.5" fill="#a5d870" opacity="0.18"/>
<rect x="580.4" y="436.5" width="4.3" height="118.5" fill="#74d2a0" opacity="0.19"/>
<rect x="533" y="480.9" width="126.5" height="4.0" fill="#48c0a0" opacity="0.22"/>
<rect x="584.4" y="436.5" width="4.3" height="118.5" fill="#2b8fd8" opacity="0.17"/>
<rect x="588.3" y="436.5" width="4.3" height="118.5" fill="#35c2b4" opacity="0.07"/>
<rect x="533" y="492.0" width="126.5" height="4.0" fill="#35c2b4" opacity="0.13"/>
<rect x="596.2" y="436.5" width="4.3" height="118.5" fill="#4fc8c8" opacity="0.14"/>
<rect x="533" y="495.8" width="126.5" height="4.0" fill="#35c2b4" opacity="0.07"/>
<rect x="600.2" y="436.5" width="4.3" height="118.5" fill="#2a96e0" opacity="0.13"/>
<rect x="533" y="499.5" width="126.5" height="4.0" fill="#48c0a0" opacity="0.22"/>
<rect x="533" y="503.2" width="126.5" height="4.0" fill="#2a96e0" opacity="0.12"/>
<rect x="608.1" y="436.5" width="4.3" height="118.5" fill="#48c0a0" opacity="0.07"/>
<rect x="533" y="506.9" width="126.5" height="4.0" fill="#3ab0d0" opacity="0.11"/>
<rect x="612.1" y="436.5" width="4.3" height="118.5" fill="#2a96e0" opacity="0.24"/>
<rect x="533" y="510.6" width="126.5" height="4.0" fill="#a5d870" opacity="0.23"/>
<rect x="533" y="514.3" width="126.5" height="4.0" fill="#2fa0d8" opacity="0.22"/>
<rect x="620.0" y="436.5" width="4.3" height="118.5" fill="#48c0a0" opacity="0.08"/>
<rect x="533" y="521.7" width="126.5" height="4.0" fill="#2b8fd8" opacity="0.23"/>
<rect x="627.9" y="436.5" width="4.3" height="118.5" fill="#4fc8c8" opacity="0.15"/>
<rect x="533" y="525.4" width="126.5" height="4.0" fill="#2a96e0" opacity="0.2"/>
<rect x="533" y="529.1" width="126.5" height="4.0" fill="#3ab0d0" opacity="0.17"/>
<rect x="635.8" y="436.5" width="4.3" height="118.5" fill="#2a96e0" opacity="0.17"/>
<rect x="533" y="532.8" width="126.5" height="4.0" fill="#a5d870" opacity="0.18"/>
<rect x="639.7" y="436.5" width="4.3" height="118.5" fill="#4fc8c8" opacity="0.19"/>
<rect x="533" y="536.5" width="126.5" height="4.0" fill="#2a96e0" opacity="0.23"/>
<rect x="643.7" y="436.5" width="4.3" height="118.5" fill="#a5d870" opacity="0.11"/>
<rect x="533" y="540.2" width="126.5" height="4.0" fill="#a5d870" opacity="0.09"/>
<rect x="647.6" y="436.5" width="4.3" height="118.5" fill="#a5d870" opacity="0.21"/>
<rect x="533" y="543.9" width="126.5" height="4.0" fill="#3ab0d0" opacity="0.08"/>
<rect x="655.5" y="436.5" width="4.3" height="118.5" fill="#74d2a0" opacity="0.12"/>
<rect x="533" y="551.3" width="126.5" height="4.0" fill="#4fc8c8" opacity="0.1"/>
</g>
</g>

<!-- NODDI slices -->
<g id="mri">
<!-- NDI -->
<g transform="translate(529,717)">
<use href="#egg" fill="#a6a6a6"/>
<g clip-path="url(#eggClip)">
<rect x="-60" y="-70" width="120" height="140" filter="url(#fMriTex)" opacity="0.38"/>
<g filter="url(#fBlur2)">
<ellipse cx="-21" cy="-2" rx="6" ry="21" fill="#ffffff" opacity="0.95" transform="rotate(-5 -21 -2)"/>
<ellipse cx="19.5" cy="-1" rx="6" ry="21" fill="#ffffff" opacity="0.95" transform="rotate(5 19.5 -1)"/>
<ellipse cx="0" cy="-53" rx="14" ry="6" fill="#e4e4e4" opacity="0.7"/>
<ellipse cx="-26" cy="-30" rx="10" ry="12" fill="#c4c4c4" opacity="0.6"/>
<ellipse cx="26" cy="-30" rx="10" ry="12" fill="#c4c4c4" opacity="0.6"/>
<ellipse cx="-24" cy="36" rx="16" ry="14" fill="#c2c2c2" opacity="0.6"/>
<ellipse cx="24" cy="36" rx="16" ry="14" fill="#c2c2c2" opacity="0.6"/>
<path d="M-9,-26 C-6,-18 -3,-12 0,-10 C3,-12 6,-18 9,-26 C12,-18 10,-8 6,-3 C8,4 10,8 12,12 L7,14 C4,8 2,4 0,2 C-2,4 -4,8 -7,14 L-12,12 C-10,8 -8,4 -6,-3 C-10,-8 -12,-18 -9,-26 Z" fill="#2a2a2a"/>
<path d="M-9,8 C-14,18 -20,27 -27,34 M9,8 C14,18 20,27 27,34" stroke="#4a4a4a" stroke-width="3.5" fill="none" opacity="0.85"/>
<path d="M-40,-10 C-44,0 -44,12 -40,22 M40,-10 C44,0 44,12 40,22" stroke="#8a8a8a" stroke-width="4" fill="none" opacity="0.5"/>
<ellipse cx="0" cy="18" rx="7" ry="11" fill="#bcbcbc" opacity="0.9"/>
</g>
</g>
<use href="#egg" fill="none" stroke="#3a3a3a" stroke-width="2.8" filter="url(#fBlur05)"/>
</g>
<!-- ISOVF -->
<g transform="translate(647.5,719)">
<use href="#egg" fill="#151515"/>
<g clip-path="url(#eggClip)">
<rect x="-60" y="-70" width="120" height="140" filter="url(#fMriTex2)" opacity="0.42"/>
<use href="#egg" fill="none" stroke="#8c8c8c" stroke-width="6" stroke-dasharray="4 6 7 5 3 8" filter="url(#fBlur1)" opacity="0.75" transform="scale(0.93)"/>
<g filter="url(#fBlur1)" stroke="#6e6e6e" stroke-width="2.6" fill="none" stroke-linecap="round">
<path d="M38,-14 C34,-8 36,-2 40,4 M36,14 C32,20 36,26 42,28 M-38,-10 C-34,-4 -36,4 -40,8 M-36,18 C-33,24 -36,30 -40,32 M-22,-46 C-20,-40 -22,-34 -26,-30 M20,-48 C19,-42 22,-36 26,-34"/>
</g>
<g filter="url(#fBlur15)">
<path d="M0,-58 L0,-28 M0,24 L0,58" stroke="#7c7c7c" stroke-width="2.6" fill="none"/>
<use href="#ventX" fill="#f4f4f4" transform="translate(0,-4) scale(1.0)"/>
<ellipse cx="0" cy="0" rx="4" ry="9" fill="#ffffff"/>
</g>
</g>
<use href="#egg" fill="none" stroke="#2c2c2c" stroke-width="2.6" filter="url(#fBlur05)"/>
</g>
<!-- ODI -->
<g transform="translate(763,717.5)">
<use href="#egg" fill="#909090"/>
<g clip-path="url(#eggClip)">
<rect x="-60" y="-70" width="120" height="140" filter="url(#fMriTex)" opacity="0.42"/>
<g filter="url(#fBlur2)">
<path d="M0,-38 C-20,-36 -28,-10 -27,14 C-26,30 -20,38 -10,32 L0,24 L10,32 C20,38 26,30 27,14 C28,-10 20,-36 0,-38 Z" fill="#353535" opacity="0.8"/>
<path d="M-26,30 C-32,36 -36,40 -40,40 M26,30 C32,36 36,40 40,40" stroke="#4a4a4a" stroke-width="5" fill="none" opacity="0.6"/>
<ellipse cx="0" cy="-42" rx="10" ry="9" fill="#b8b8b8" opacity="0.9"/>
<ellipse cx="0" cy="44" rx="20" ry="9" fill="#a8a8a8" opacity="0.6"/>
</g>
<g filter="url(#fBlur15)">
<use href="#ventX" fill="#ffffff" transform="translate(0,-5) scale(0.98)"/>
<ellipse cx="-5" cy="-6" rx="4" ry="10" fill="#ffffff"/><ellipse cx="5" cy="-6" rx="4" ry="10" fill="#ffffff"/>
<path d="M0,-22 V8" stroke="#555" stroke-width="1.6"/>
</g>
</g>
<use href="#egg" fill="none" stroke="#343434" stroke-width="2.8" filter="url(#fBlur05)"/>
</g>
</g>

<!-- bracket -->
<path d="M843,137 H867.5 V855.5 H843" fill="none" stroke="#808080" stroke-width="4"/>

<text x="502.5" y="314.5" font-size="25" textLength="282.5" lengthAdjust="spacingAndGlyphs">Cortical and subcortical</text>
<text x="564" y="344" font-size="25" textLength="160" lengthAdjust="spacingAndGlyphs">morphometry</text>
<text x="506.5" y="591" font-size="25" textLength="274.5" lengthAdjust="spacingAndGlyphs">Functional connectivity</text>
<text x="506.5" y="814" font-size="25" textLength="41.5" lengthAdjust="spacingAndGlyphs">NDI</text>
<text x="611" y="814" font-size="25" textLength="71.5" lengthAdjust="spacingAndGlyphs">ISOVF</text>
<text x="740.5" y="814" font-size="25" textLength="43" lengthAdjust="spacingAndGlyphs">ODI</text>
<text x="558" y="867.5" font-size="25" textLength="173" lengthAdjust="spacingAndGlyphs">NODDI metrics</text>
</g>

<!--LEFT-->

<!-- ===== RIGHT PANEL ===== -->
<g id="right">
<!-- PLS arrow -->
<path d="M869,230.7 H1118" stroke="#808080" stroke-width="3.8" fill="none"/>
<path d="M1128,230.7 L1113.5,224.6 L1117,230.7 L1113.5,236.8 Z" fill="#808080"/>
<text x="996" y="216.5" font-size="25" textLength="42.5" lengthAdjust="spacingAndGlyphs">PLS</text>
<text x="954.5" y="266" font-size="25" textLength="122.5" lengthAdjust="spacingAndGlyphs">10-fold CV</text>

<!-- grey container for scatter plots -->
<rect x="1133" y="84" width="859" height="231" rx="36" ry="36" fill="#f0f0f0"/>
<text x="1364" y="111.5" font-size="25" textLength="431" lengthAdjust="spacingAndGlyphs">System-specific brain age prediction</text>
<!-- scatter panels -->
<g id="scatter">
<g id="sp0">
<rect x="1145" y="127" width="206" height="170" fill="#ffffff"/>
<g clip-path="url(#cS0)">
<g transform="translate(1243.5,212) rotate(-25.8)">
<g filter="url(#fRag)"><rect x="-70" y="-20.5" width="140" height="41.0" rx="35.0" ry="20.5" fill="#4a1a6a"/></g>
<rect x="-65.8" y="-17.4" width="131.6" height="34.9" rx="32.9" ry="17.4" fill="url(#gVir)"/>
<ellipse cx="0" cy="0" rx="25.2" ry="2.7" fill="#e4e04a" opacity="0.55" filter="url(#fBlur1)"/>
<rect x="-63.4" y="-28.8" width="1.1" height="1.1" fill="#46256e"/>
<rect x="-4.6" y="-36.1" width="1.1" height="1.1" fill="#46256e"/>
<rect x="82.8" y="-9.6" width="1.1" height="1.1" fill="#46256e"/>
<rect x="-65.8" y="5.6" width="1.1" height="1.1" fill="#46256e"/>
<rect x="60.2" y="2.7" width="1.1" height="1.1" fill="#46256e"/>
<rect x="6.9" y="-22.6" width="1.1" height="1.1" fill="#46256e"/>
<rect x="-38.6" y="-21.0" width="1.1" height="1.1" fill="#46256e"/>
<rect x="19.1" y="31.4" width="1.1" height="1.1" fill="#46256e"/>
<rect x="-21.6" y="38.9" width="1.1" height="1.1" fill="#46256e"/>
<rect x="25.8" y="42.9" width="1.1" height="1.1" fill="#46256e"/>
<rect x="50.6" y="-15.2" width="1.1" height="1.1" fill="#46256e"/>
<rect x="34.6" y="21.5" width="1.1" height="1.1" fill="#46256e"/>
<rect x="74.5" y="0.7" width="1.1" height="1.1" fill="#46256e"/>
<rect x="28.6" y="-28.1" width="1.1" height="1.1" fill="#46256e"/>
<rect x="-19.7" y="-19.5" width="1.1" height="1.1" fill="#46256e"/>
<rect x="-0.1" y="-40.3" width="1.1" height="1.1" fill="#46256e"/>
<rect x="-42.3" y="19.2" width="1.1" height="1.1" fill="#46256e"/>
<rect x="32.8" y="37.5" width="1.1" height="1.1" fill="#46256e"/>
<rect x="74.1" y="-14.8" width="1.1" height="1.1" fill="#46256e"/>
<rect x="-70.1" y="-6.0" width="1.1" height="1.1" fill="#46256e"/>
<rect x="20.8" y="-41.2" width="1.1" height="1.1" fill="#46256e"/>
<rect x="60.0" y="18.9" width="1.1" height="1.1" fill="#46256e"/>
<rect x="-46.7" y="28.4" width="1.1" height="1.1" fill="#46256e"/>
<rect x="-22.4" y="21.0" width="1.1" height="1.1" fill="#46256e"/>
<rect x="-29.2" y="-27.8" width="1.1" height="1.1" fill="#46256e"/>
<rect x="71.9" y="-2.3" width="1.1" height="1.1" fill="#46256e"/>
<rect x="-68.0" y="-19.1" width="1.1" height="1.1" fill="#46256e"/>
<rect x="68.0" y="12.5" width="1.1" height="1.1" fill="#46256e"/>
<rect x="35.6" y="-27.3" width="1.1" height="1.1" fill="#46256e"/>
<rect x="-48.6" y="-24.8" width="1.1" height="1.1" fill="#46256e"/>
<rect x="46.1" y="28.2" width="1.1" height="1.1" fill="#46256e"/>
<rect x="97.2" y="-0.2" width="1.1" height="1.1" fill="#46256e"/>
<rect x="-79.5" y="2.3" width="1.1" height="1.1" fill="#46256e"/>
<rect x="-49.8" y="18.7" width="1.1" height="1.1" fill="#46256e"/>
<rect x="74.8" y="-7.6" width="1.1" height="1.1" fill="#46256e"/>
<rect x="61.9" y="17.7" width="1.1" height="1.1" fill="#46256e"/>
<rect x="-57.6" y="29.1" width="1.1" height="1.1" fill="#46256e"/>
<rect x="-39.8" y="-32.4" width="1.1" height="1.1" fill="#46256e"/>
<rect x="-15.3" y="33.3" width="1.1" height="1.1" fill="#46256e"/>
<rect x="-24.7" y="36.9" width="1.1" height="1.1" fill="#46256e"/>
<rect x="68.5" y="2.5" width="1.1" height="1.1" fill="#46256e"/>
<rect x="-84.5" y="9.3" width="1.1" height="1.1" fill="#46256e"/>
<rect x="-48.4" y="31.1" width="1.1" height="1.1" fill="#46256e"/>
<rect x="-55.2" y="31.3" width="1.1" height="1.1" fill="#46256e"/>
<rect x="86.5" y="-5.6" width="1.1" height="1.1" fill="#46256e"/>
<rect x="48.0" y="30.5" width="1.1" height="1.1" fill="#46256e"/>
<rect x="-31.0" y="-27.2" width="1.1" height="1.1" fill="#46256e"/>
<rect x="15.2" y="-30.7" width="1.1" height="1.1" fill="#46256e"/>
<rect x="-60.8" y="-26.9" width="1.1" height="1.1" fill="#46256e"/>
<rect x="61.3" y="5.0" width="1.1" height="1.1" fill="#46256e"/>
<rect x="15.9" y="26.3" width="1.1" height="1.1" fill="#46256e"/>
<rect x="-54.8" y="4.1" width="1.1" height="1.1" fill="#46256e"/>
<rect x="-23.6" y="19.8" width="1.1" height="1.1" fill="#46256e"/>
<rect x="-70.9" y="6.7" width="1.1" height="1.1" fill="#46256e"/>
<rect x="5.4" y="34.8" width="1.1" height="1.1" fill="#46256e"/>
<rect x="-11.0" y="34.2" width="1.1" height="1.1" fill="#46256e"/>
<rect x="-43.6" y="14.9" width="1.1" height="1.1" fill="#46256e"/>
<rect x="-67.8" y="-9.9" width="1.1" height="1.1" fill="#46256e"/>
<rect x="32.8" y="-29.4" width="1.1" height="1.1" fill="#46256e"/>
<rect x="-44.3" y="20.2" width="1.1" height="1.1" fill="#46256e"/>
<rect x="87.2" y="-9.2" width="1.1" height="1.1" fill="#46256e"/>
<rect x="40.1" y="-16.1" width="1.1" height="1.1" fill="#46256e"/>
<rect x="-49.2" y="-20.9" width="1.1" height="1.1" fill="#46256e"/>
<rect x="-46.2" y="19.5" width="1.1" height="1.1" fill="#46256e"/>
<rect x="79.5" y="-6.1" width="1.1" height="1.1" fill="#46256e"/>
<rect x="-63.5" y="-16.0" width="1.1" height="1.1" fill="#46256e"/>
<rect x="-68.3" y="14.7" width="1.1" height="1.1" fill="#46256e"/>
<rect x="-14.4" y="31.9" width="1.1" height="1.1" fill="#46256e"/>
<rect x="-69.1" y="11.5" width="1.1" height="1.1" fill="#46256e"/>
<rect x="68.6" y="3.1" width="1.1" height="1.1" fill="#46256e"/>
</g>
<path d="M1180.6,258.0 L1309.2,169.7" stroke="#cf5f78" stroke-width="0.8" fill="none" opacity="0.85"/>
<path d="M1180.6,242.5 L1311.7,187.0" stroke="#161616" stroke-width="0.9" fill="none"/>
</g>
<rect x="1172.7" y="150" width="144.4" height="116" fill="none" stroke="#111111" stroke-width="1.1"/>
<rect x="1320.7" y="150" width="7" height="116" fill="url(#gVirBar)" stroke="#222" stroke-width="0.5"/>
<path d="M1327.7,160 h2" stroke="#222" stroke-width="0.6"/>
<text x="1330.5" y="162.2" font-size="6.2" style="fill:#333">70</text>
<path d="M1327.7,174 h2" stroke="#222" stroke-width="0.6"/>
<text x="1330.5" y="176.2" font-size="6.2" style="fill:#333">60</text>
<path d="M1327.7,189.8 h2" stroke="#222" stroke-width="0.6"/>
<text x="1330.5" y="192.0" font-size="6.2" style="fill:#333">50</text>
<path d="M1327.7,205 h2" stroke="#222" stroke-width="0.6"/>
<text x="1330.5" y="207.2" font-size="6.2" style="fill:#333">40</text>
<path d="M1327.7,220.6 h2" stroke="#222" stroke-width="0.6"/>
<text x="1330.5" y="222.8" font-size="6.2" style="fill:#333">30</text>
<path d="M1327.7,236 h2" stroke="#222" stroke-width="0.6"/>
<text x="1330.5" y="238.2" font-size="6.2" style="fill:#333">20</text>
<path d="M1327.7,251 h2" stroke="#222" stroke-width="0.6"/>
<text x="1330.5" y="253.2" font-size="6.2" style="fill:#333">10</text>
<text transform="translate(1341.2,208.0) rotate(90)" text-anchor="middle" font-size="9.2" style="fill:#333">Counts</text>
<text x="1244.9" y="135.8" text-anchor="middle" font-size="8" textLength="124.6" lengthAdjust="spacingAndGlyphs" style="fill:#3a3a3a">DMN predicted vs actual brain age</text>
<text x="1244.9" y="147.5" text-anchor="middle" font-size="8" textLength="106.7" lengthAdjust="spacingAndGlyphs" style="fill:#3a3a3a">Pearson’s <tspan font-style="italic">r</tspan> = 0.78, MAE = 3.74</text>
<path d="M1170.7,151.7 h2" stroke="#222" stroke-width="0.6"/>
<text x="1169.7" y="153.9" text-anchor="end" font-size="6.2" style="fill:#333">90</text>
<path d="M1170.7,175 h2" stroke="#222" stroke-width="0.6"/>
<text x="1169.7" y="177.2" text-anchor="end" font-size="6.2" style="fill:#333">80</text>
<path d="M1170.7,198.5 h2" stroke="#222" stroke-width="0.6"/>
<text x="1169.7" y="200.7" text-anchor="end" font-size="6.2" style="fill:#333">70</text>
<path d="M1170.7,222 h2" stroke="#222" stroke-width="0.6"/>
<text x="1169.7" y="224.2" text-anchor="end" font-size="6.2" style="fill:#333">60</text>
<path d="M1170.7,246 h2" stroke="#222" stroke-width="0.6"/>
<text x="1169.7" y="248.2" text-anchor="end" font-size="6.2" style="fill:#333">50</text>
<path d="M1180.6,266 v2" stroke="#222" stroke-width="0.6"/>
<text x="1180.6" y="276.2" text-anchor="middle" font-size="6.2" style="fill:#333">45</text>
<path d="M1198.1,266 v2" stroke="#222" stroke-width="0.6"/>
<text x="1198.1" y="276.2" text-anchor="middle" font-size="6.2" style="fill:#333">50</text>
<path d="M1215.7,266 v2" stroke="#222" stroke-width="0.6"/>
<text x="1215.7" y="276.2" text-anchor="middle" font-size="6.2" style="fill:#333">55</text>
<path d="M1233.2,266 v2" stroke="#222" stroke-width="0.6"/>
<text x="1233.2" y="276.2" text-anchor="middle" font-size="6.2" style="fill:#333">60</text>
<path d="M1250.7,266 v2" stroke="#222" stroke-width="0.6"/>
<text x="1250.7" y="276.2" text-anchor="middle" font-size="6.2" style="fill:#333">65</text>
<path d="M1268.3,266 v2" stroke="#222" stroke-width="0.6"/>
<text x="1268.3" y="276.2" text-anchor="middle" font-size="6.2" style="fill:#333">70</text>
<path d="M1285.8,266 v2" stroke="#222" stroke-width="0.6"/>
<text x="1285.8" y="276.2" text-anchor="middle" font-size="6.2" style="fill:#333">75</text>
<path d="M1303.3,266 v2" stroke="#222" stroke-width="0.6"/>
<text x="1303.3" y="276.2" text-anchor="middle" font-size="6.2" style="fill:#333">80</text>
<text x="1245.9" y="286.8" text-anchor="middle" font-size="9.9" textLength="116.7" lengthAdjust="spacingAndGlyphs" style="fill:#333">Chronological age (years)</text>
<text transform="translate(1155.3,208.7) rotate(-90)" text-anchor="middle" font-size="9.6" textLength="119.5" lengthAdjust="spacingAndGlyphs" style="fill:#333">Predicted brain age (years)</text>
<rect x="1179.7" y="153.2" width="1" height="1" fill="#46256e"/><text x="1186.2" y="155.8" font-size="5.6" textLength="30.5" lengthAdjust="spacingAndGlyphs" style="fill:#333">Data points</text>
<path d="M1177.7,160.7 h6" stroke="#161616" stroke-width="0.8"/><text x="1186.2" y="162.5" font-size="5.6" textLength="54.8" lengthAdjust="spacingAndGlyphs" style="fill:#333">Linear line of best fit</text>
<path d="M1177.7,167 h6" stroke="#cf5f78" stroke-width="0.8"/><text x="1186.2" y="168.9" font-size="5.6" textLength="32.5" lengthAdjust="spacingAndGlyphs" style="fill:#333">Equality line</text>
</g>
<g id="sp1">
<rect x="1354" y="127" width="206" height="170" fill="#ffffff"/>
<g clip-path="url(#cS1)">
<g transform="translate(1450.5,211.5) rotate(-25.8)">
<g filter="url(#fRag)"><rect x="-71" y="-21.5" width="142" height="43.0" rx="35.5" ry="21.5" fill="#4a1a6a"/></g>
<rect x="-66.7" y="-18.3" width="133.5" height="36.5" rx="33.4" ry="18.3" fill="url(#gVir)"/>
<ellipse cx="0" cy="0" rx="25.6" ry="2.8" fill="#e4e04a" opacity="0.55" filter="url(#fBlur1)"/>
<rect x="12.3" y="-24.5" width="1.1" height="1.1" fill="#46256e"/>
<rect x="70.7" y="-2.1" width="1.1" height="1.1" fill="#46256e"/>
<rect x="-51.5" y="-22.4" width="1.1" height="1.1" fill="#46256e"/>
<rect x="4.5" y="-28.0" width="1.1" height="1.1" fill="#46256e"/>
<rect x="-21.6" y="29.9" width="1.1" height="1.1" fill="#46256e"/>
<rect x="-2.0" y="-30.3" width="1.1" height="1.1" fill="#46256e"/>
<rect x="-94.4" y="10.8" width="1.1" height="1.1" fill="#46256e"/>
<rect x="80.5" y="3.5" width="1.1" height="1.1" fill="#46256e"/>
<rect x="-20.3" y="-39.7" width="1.1" height="1.1" fill="#46256e"/>
<rect x="-59.9" y="17.9" width="1.1" height="1.1" fill="#46256e"/>
<rect x="-20.8" y="41.1" width="1.1" height="1.1" fill="#46256e"/>
<rect x="-23.0" y="-33.9" width="1.1" height="1.1" fill="#46256e"/>
<rect x="53.7" y="-15.3" width="1.1" height="1.1" fill="#46256e"/>
<rect x="-61.5" y="0.5" width="1.1" height="1.1" fill="#46256e"/>
<rect x="21.3" y="-28.8" width="1.1" height="1.1" fill="#46256e"/>
<rect x="17.3" y="-37.3" width="1.1" height="1.1" fill="#46256e"/>
<rect x="94.6" y="-4.2" width="1.1" height="1.1" fill="#46256e"/>
<rect x="37.9" y="-29.4" width="1.1" height="1.1" fill="#46256e"/>
<rect x="-13.9" y="-32.5" width="1.1" height="1.1" fill="#46256e"/>
<rect x="44.5" y="23.6" width="1.1" height="1.1" fill="#46256e"/>
<rect x="-38.1" y="-17.7" width="1.1" height="1.1" fill="#46256e"/>
<rect x="56.6" y="13.1" width="1.1" height="1.1" fill="#46256e"/>
<rect x="44.9" y="-17.8" width="1.1" height="1.1" fill="#46256e"/>
<rect x="-68.8" y="-18.2" width="1.1" height="1.1" fill="#46256e"/>
<rect x="66.8" y="12.9" width="1.1" height="1.1" fill="#46256e"/>
<rect x="-88.3" y="-1.5" width="1.1" height="1.1" fill="#46256e"/>
<rect x="-5.8" y="37.3" width="1.1" height="1.1" fill="#46256e"/>
<rect x="-57.7" y="-2.8" width="1.1" height="1.1" fill="#46256e"/>
<rect x="-5.8" y="-30.6" width="1.1" height="1.1" fill="#46256e"/>
<rect x="59.1" y="14.9" width="1.1" height="1.1" fill="#46256e"/>
<rect x="-62.4" y="-16.3" width="1.1" height="1.1" fill="#46256e"/>
<rect x="-31.2" y="36.3" width="1.1" height="1.1" fill="#46256e"/>
<rect x="69.6" y="10.1" width="1.1" height="1.1" fill="#46256e"/>
<rect x="12.3" y="29.5" width="1.1" height="1.1" fill="#46256e"/>
<rect x="28.5" y="-23.8" width="1.1" height="1.1" fill="#46256e"/>
<rect x="6.8" y="28.5" width="1.1" height="1.1" fill="#46256e"/>
<rect x="-53.3" y="19.7" width="1.1" height="1.1" fill="#46256e"/>
<rect x="27.2" y="-30.4" width="1.1" height="1.1" fill="#46256e"/>
<rect x="-69.2" y="-17.8" width="1.1" height="1.1" fill="#46256e"/>
<rect x="44.8" y="12.2" width="1.1" height="1.1" fill="#46256e"/>
<rect x="61.7" y="-16.2" width="1.1" height="1.1" fill="#46256e"/>
<rect x="-88.0" y="6.9" width="1.1" height="1.1" fill="#46256e"/>
<rect x="-54.1" y="5.0" width="1.1" height="1.1" fill="#46256e"/>
<rect x="-56.6" y="18.8" width="1.1" height="1.1" fill="#46256e"/>
<rect x="-1.5" y="27.1" width="1.1" height="1.1" fill="#46256e"/>
<rect x="5.8" y="38.7" width="1.1" height="1.1" fill="#46256e"/>
<rect x="-63.3" y="30.6" width="1.1" height="1.1" fill="#46256e"/>
<rect x="-75.4" y="7.4" width="1.1" height="1.1" fill="#46256e"/>
<rect x="-21.9" y="28.9" width="1.1" height="1.1" fill="#46256e"/>
<rect x="16.6" y="20.6" width="1.1" height="1.1" fill="#46256e"/>
<rect x="-68.8" y="20.9" width="1.1" height="1.1" fill="#46256e"/>
<rect x="-71.9" y="6.6" width="1.1" height="1.1" fill="#46256e"/>
<rect x="36.6" y="30.2" width="1.1" height="1.1" fill="#46256e"/>
<rect x="-51.1" y="-19.8" width="1.1" height="1.1" fill="#46256e"/>
<rect x="74.6" y="10.9" width="1.1" height="1.1" fill="#46256e"/>
<rect x="-85.6" y="-11.0" width="1.1" height="1.1" fill="#46256e"/>
<rect x="58.2" y="15.1" width="1.1" height="1.1" fill="#46256e"/>
<rect x="51.5" y="-8.5" width="1.1" height="1.1" fill="#46256e"/>
<rect x="-45.1" y="15.6" width="1.1" height="1.1" fill="#46256e"/>
<rect x="-17.8" y="30.7" width="1.1" height="1.1" fill="#46256e"/>
<rect x="31.1" y="30.3" width="1.1" height="1.1" fill="#46256e"/>
<rect x="51.8" y="15.7" width="1.1" height="1.1" fill="#46256e"/>
<rect x="76.3" y="-14.2" width="1.1" height="1.1" fill="#46256e"/>
<rect x="74.9" y="3.8" width="1.1" height="1.1" fill="#46256e"/>
<rect x="-60.1" y="28.7" width="1.1" height="1.1" fill="#46256e"/>
<rect x="-28.7" y="26.4" width="1.1" height="1.1" fill="#46256e"/>
<rect x="44.4" y="22.7" width="1.1" height="1.1" fill="#46256e"/>
<rect x="25.5" y="-22.4" width="1.1" height="1.1" fill="#46256e"/>
<rect x="2.0" y="28.4" width="1.1" height="1.1" fill="#46256e"/>
<rect x="1.9" y="21.6" width="1.1" height="1.1" fill="#46256e"/>
</g>
<path d="M1388.4,258.0 L1517.0,165.0" stroke="#cf5f78" stroke-width="0.8" fill="none" opacity="0.85"/>
<path d="M1388.4,242.5 L1519.5,185.0" stroke="#161616" stroke-width="0.9" fill="none"/>
</g>
<rect x="1380.5" y="150" width="144.4" height="116" fill="none" stroke="#111111" stroke-width="1.1"/>
<rect x="1528.5" y="150" width="7" height="116" fill="url(#gVirBar)" stroke="#222" stroke-width="0.5"/>
<path d="M1535.5,160 h2" stroke="#222" stroke-width="0.6"/>
<text x="1538.3" y="162.2" font-size="6.2" style="fill:#333">70</text>
<path d="M1535.5,174 h2" stroke="#222" stroke-width="0.6"/>
<text x="1538.3" y="176.2" font-size="6.2" style="fill:#333">60</text>
<path d="M1535.5,189.8 h2" stroke="#222" stroke-width="0.6"/>
<text x="1538.3" y="192.0" font-size="6.2" style="fill:#333">50</text>
<path d="M1535.5,205 h2" stroke="#222" stroke-width="0.6"/>
<text x="1538.3" y="207.2" font-size="6.2" style="fill:#333">40</text>
<path d="M1535.5,220.6 h2" stroke="#222" stroke-width="0.6"/>
<text x="1538.3" y="222.8" font-size="6.2" style="fill:#333">30</text>
<path d="M1535.5,236 h2" stroke="#222" stroke-width="0.6"/>
<text x="1538.3" y="238.2" font-size="6.2" style="fill:#333">20</text>
<path d="M1535.5,251 h2" stroke="#222" stroke-width="0.6"/>
<text x="1538.3" y="253.2" font-size="6.2" style="fill:#333">10</text>
<text transform="translate(1549.0,208.0) rotate(90)" text-anchor="middle" font-size="9.2" style="fill:#333">Counts</text>
<text x="1452.7" y="135.8" text-anchor="middle" font-size="8" textLength="124.6" lengthAdjust="spacingAndGlyphs" style="fill:#3a3a3a">SMN predicted vs actual brain age</text>
<text x="1452.7" y="147.5" text-anchor="middle" font-size="8" textLength="106.7" lengthAdjust="spacingAndGlyphs" style="fill:#3a3a3a">Pearson’s <tspan font-style="italic">r</tspan> = 0.79, MAE = 3.61</text>
<path d="M1378.5,169.7 h2" stroke="#222" stroke-width="0.6"/>
<text x="1377.5" y="171.9" text-anchor="end" font-size="6.2" style="fill:#333">80</text>
<path d="M1378.5,195.7 h2" stroke="#222" stroke-width="0.6"/>
<text x="1377.5" y="197.9" text-anchor="end" font-size="6.2" style="fill:#333">70</text>
<path d="M1378.5,221 h2" stroke="#222" stroke-width="0.6"/>
<text x="1377.5" y="223.2" text-anchor="end" font-size="6.2" style="fill:#333">60</text>
<path d="M1378.5,246.6 h2" stroke="#222" stroke-width="0.6"/>
<text x="1377.5" y="248.8" text-anchor="end" font-size="6.2" style="fill:#333">50</text>
<path d="M1388.4,266 v2" stroke="#222" stroke-width="0.6"/>
<text x="1388.4" y="276.2" text-anchor="middle" font-size="6.2" style="fill:#333">45</text>
<path d="M1405.9,266 v2" stroke="#222" stroke-width="0.6"/>
<text x="1405.9" y="276.2" text-anchor="middle" font-size="6.2" style="fill:#333">50</text>
<path d="M1423.5,266 v2" stroke="#222" stroke-width="0.6"/>
<text x="1423.5" y="276.2" text-anchor="middle" font-size="6.2" style="fill:#333">55</text>
<path d="M1441.0,266 v2" stroke="#222" stroke-width="0.6"/>
<text x="1441.0" y="276.2" text-anchor="middle" font-size="6.2" style="fill:#333">60</text>
<path d="M1458.5,266 v2" stroke="#222" stroke-width="0.6"/>
<text x="1458.5" y="276.2" text-anchor="middle" font-size="6.2" style="fill:#333">65</text>
<path d="M1476.1,266 v2" stroke="#222" stroke-width="0.6"/>
<text x="1476.1" y="276.2" text-anchor="middle" font-size="6.2" style="fill:#333">70</text>
<path d="M1493.6,266 v2" stroke="#222" stroke-width="0.6"/>
<text x="1493.6" y="276.2" text-anchor="middle" font-size="6.2" style="fill:#333">75</text>
<path d="M1511.1,266 v2" stroke="#222" stroke-width="0.6"/>
<text x="1511.1" y="276.2" text-anchor="middle" font-size="6.2" style="fill:#333">80</text>
<text x="1453.7" y="286.8" text-anchor="middle" font-size="9.9" textLength="116.7" lengthAdjust="spacingAndGlyphs" style="fill:#333">Chronological age (years)</text>
<text transform="translate(1364.3,208.7) rotate(-90)" text-anchor="middle" font-size="9.6" textLength="119.5" lengthAdjust="spacingAndGlyphs" style="fill:#333">Predicted brain age (years)</text>
<rect x="1387.5" y="153.2" width="1" height="1" fill="#46256e"/><text x="1394.0" y="155.8" font-size="5.6" textLength="30.5" lengthAdjust="spacingAndGlyphs" style="fill:#333">Data points</text>
<path d="M1385.5,160.7 h6" stroke="#161616" stroke-width="0.8"/><text x="1394.0" y="162.5" font-size="5.6" textLength="54.8" lengthAdjust="spacingAndGlyphs" style="fill:#333">Linear line of best fit</text>
<path d="M1385.5,167 h6" stroke="#cf5f78" stroke-width="0.8"/><text x="1394.0" y="168.9" font-size="5.6" textLength="32.5" lengthAdjust="spacingAndGlyphs" style="fill:#333">Equality line</text>
</g>
<g id="sp2">
<rect x="1563" y="127" width="206" height="170" fill="#ffffff"/>
<g clip-path="url(#cS2)">
<g transform="translate(1659,222) rotate(-15.5)">
<g filter="url(#fRag)"><rect x="-66" y="-20" width="132" height="40" rx="33.0" ry="20" fill="#4a1a6a"/></g>
<rect x="-62.0" y="-17.0" width="124.1" height="34.0" rx="31.0" ry="17.0" fill="url(#gVir)"/>
<ellipse cx="0" cy="0" rx="23.8" ry="2.6" fill="#e4e04a" opacity="0.55" filter="url(#fBlur1)"/>
<rect x="18.8" y="21.8" width="1.1" height="1.1" fill="#46256e"/>
<rect x="-61.1" y="13.9" width="1.1" height="1.1" fill="#46256e"/>
<rect x="63.5" y="-20.4" width="1.1" height="1.1" fill="#46256e"/>
<rect x="-76.8" y="14.8" width="1.1" height="1.1" fill="#46256e"/>
<rect x="-9.5" y="-37.4" width="1.1" height="1.1" fill="#46256e"/>
<rect x="-37.3" y="15.0" width="1.1" height="1.1" fill="#46256e"/>
<rect x="-5.4" y="26.3" width="1.1" height="1.1" fill="#46256e"/>
<rect x="5.2" y="-24.9" width="1.1" height="1.1" fill="#46256e"/>
<rect x="50.1" y="25.3" width="1.1" height="1.1" fill="#46256e"/>
<rect x="-46.0" y="-16.6" width="1.1" height="1.1" fill="#46256e"/>
<rect x="-27.7" y="24.7" width="1.1" height="1.1" fill="#46256e"/>
<rect x="-8.5" y="-21.6" width="1.1" height="1.1" fill="#46256e"/>
<rect x="-19.6" y="-32.8" width="1.1" height="1.1" fill="#46256e"/>
<rect x="53.9" y="18.9" width="1.1" height="1.1" fill="#46256e"/>
<rect x="-67.5" y="14.4" width="1.1" height="1.1" fill="#46256e"/>
<rect x="-83.2" y="-6.1" width="1.1" height="1.1" fill="#46256e"/>
<rect x="22.4" y="-33.1" width="1.1" height="1.1" fill="#46256e"/>
<rect x="69.5" y="7.6" width="1.1" height="1.1" fill="#46256e"/>
<rect x="-44.4" y="14.7" width="1.1" height="1.1" fill="#46256e"/>
<rect x="-65.4" y="-9.8" width="1.1" height="1.1" fill="#46256e"/>
<rect x="-43.2" y="25.5" width="1.1" height="1.1" fill="#46256e"/>
<rect x="41.2" y="-21.8" width="1.1" height="1.1" fill="#46256e"/>
<rect x="28.7" y="-22.6" width="1.1" height="1.1" fill="#46256e"/>
<rect x="69.5" y="16.7" width="1.1" height="1.1" fill="#46256e"/>
<rect x="19.9" y="-31.7" width="1.1" height="1.1" fill="#46256e"/>
<rect x="-53.3" y="-18.7" width="1.1" height="1.1" fill="#46256e"/>
<rect x="-64.0" y="-2.2" width="1.1" height="1.1" fill="#46256e"/>
<rect x="-21.6" y="21.5" width="1.1" height="1.1" fill="#46256e"/>
<rect x="-71.6" y="6.0" width="1.1" height="1.1" fill="#46256e"/>
<rect x="34.5" y="-35.3" width="1.1" height="1.1" fill="#46256e"/>
<rect x="-72.1" y="-8.2" width="1.1" height="1.1" fill="#46256e"/>
<rect x="-27.8" y="-22.6" width="1.1" height="1.1" fill="#46256e"/>
<rect x="57.2" y="16.8" width="1.1" height="1.1" fill="#46256e"/>
<rect x="-16.2" y="-24.8" width="1.1" height="1.1" fill="#46256e"/>
<rect x="-13.2" y="-26.7" width="1.1" height="1.1" fill="#46256e"/>
<rect x="82.2" y="-10.9" width="1.1" height="1.1" fill="#46256e"/>
<rect x="-4.7" y="-32.1" width="1.1" height="1.1" fill="#46256e"/>
<rect x="57.1" y="-17.0" width="1.1" height="1.1" fill="#46256e"/>
<rect x="-41.9" y="13.0" width="1.1" height="1.1" fill="#46256e"/>
<rect x="-52.3" y="-30.6" width="1.1" height="1.1" fill="#46256e"/>
<rect x="-47.0" y="17.3" width="1.1" height="1.1" fill="#46256e"/>
<rect x="-16.1" y="-24.7" width="1.1" height="1.1" fill="#46256e"/>
<rect x="-22.4" y="30.8" width="1.1" height="1.1" fill="#46256e"/>
<rect x="39.4" y="24.5" width="1.1" height="1.1" fill="#46256e"/>
<rect x="72.9" y="14.1" width="1.1" height="1.1" fill="#46256e"/>
<rect x="-9.0" y="-29.7" width="1.1" height="1.1" fill="#46256e"/>
<rect x="48.9" y="-16.6" width="1.1" height="1.1" fill="#46256e"/>
<rect x="50.0" y="-4.6" width="1.1" height="1.1" fill="#46256e"/>
<rect x="-59.6" y="-10.5" width="1.1" height="1.1" fill="#46256e"/>
<rect x="-64.7" y="-20.0" width="1.1" height="1.1" fill="#46256e"/>
<rect x="70.9" y="13.8" width="1.1" height="1.1" fill="#46256e"/>
<rect x="-34.5" y="37.8" width="1.1" height="1.1" fill="#46256e"/>
<rect x="10.9" y="32.4" width="1.1" height="1.1" fill="#46256e"/>
<rect x="43.4" y="13.0" width="1.1" height="1.1" fill="#46256e"/>
<rect x="36.4" y="29.2" width="1.1" height="1.1" fill="#46256e"/>
<rect x="-7.4" y="-37.7" width="1.1" height="1.1" fill="#46256e"/>
<rect x="75.9" y="-20.1" width="1.1" height="1.1" fill="#46256e"/>
<rect x="39.7" y="13.5" width="1.1" height="1.1" fill="#46256e"/>
<rect x="-50.9" y="23.7" width="1.1" height="1.1" fill="#46256e"/>
<rect x="58.4" y="14.0" width="1.1" height="1.1" fill="#46256e"/>
<rect x="51.0" y="23.2" width="1.1" height="1.1" fill="#46256e"/>
<rect x="-94.3" y="0.8" width="1.1" height="1.1" fill="#46256e"/>
<rect x="4.3" y="-27.5" width="1.1" height="1.1" fill="#46256e"/>
<rect x="-69.8" y="4.5" width="1.1" height="1.1" fill="#46256e"/>
<rect x="-46.8" y="20.6" width="1.1" height="1.1" fill="#46256e"/>
<rect x="16.1" y="-28.4" width="1.1" height="1.1" fill="#46256e"/>
<rect x="34.3" y="-24.3" width="1.1" height="1.1" fill="#46256e"/>
<rect x="4.8" y="29.2" width="1.1" height="1.1" fill="#46256e"/>
<rect x="65.7" y="17.5" width="1.1" height="1.1" fill="#46256e"/>
<rect x="-53.1" y="22.0" width="1.1" height="1.1" fill="#46256e"/>
</g>
<path d="M1596.0,261.0 L1725.0,178.0" stroke="#cf5f78" stroke-width="0.8" fill="none" opacity="0.85"/>
<path d="M1597.0,237.0 L1727.0,201.0" stroke="#161616" stroke-width="0.9" fill="none"/>
</g>
<rect x="1588" y="150" width="144.4" height="116" fill="none" stroke="#111111" stroke-width="1.1"/>
<rect x="1736.0" y="150" width="7" height="116" fill="url(#gVirBar)" stroke="#222" stroke-width="0.5"/>
<path d="M1743.0,160 h2" stroke="#222" stroke-width="0.6"/>
<text x="1745.8" y="162.2" font-size="6.2" style="fill:#333">70</text>
<path d="M1743.0,174 h2" stroke="#222" stroke-width="0.6"/>
<text x="1745.8" y="176.2" font-size="6.2" style="fill:#333">60</text>
<path d="M1743.0,189.8 h2" stroke="#222" stroke-width="0.6"/>
<text x="1745.8" y="192.0" font-size="6.2" style="fill:#333">50</text>
<path d="M1743.0,205 h2" stroke="#222" stroke-width="0.6"/>
<text x="1745.8" y="207.2" font-size="6.2" style="fill:#333">40</text>
<path d="M1743.0,220.6 h2" stroke="#222" stroke-width="0.6"/>
<text x="1745.8" y="222.8" font-size="6.2" style="fill:#333">30</text>
<path d="M1743.0,236 h2" stroke="#222" stroke-width="0.6"/>
<text x="1745.8" y="238.2" font-size="6.2" style="fill:#333">20</text>
<path d="M1743.0,251 h2" stroke="#222" stroke-width="0.6"/>
<text x="1745.8" y="253.2" font-size="6.2" style="fill:#333">10</text>
<text transform="translate(1756.5,208.0) rotate(90)" text-anchor="middle" font-size="9.2" style="fill:#333">Counts</text>
<text x="1660.2" y="135.8" text-anchor="middle" font-size="8" textLength="120" lengthAdjust="spacingAndGlyphs" style="fill:#3a3a3a">LIM predicted vs actual brain age</text>
<text x="1660.2" y="147.5" text-anchor="middle" font-size="8" textLength="106.7" lengthAdjust="spacingAndGlyphs" style="fill:#3a3a3a">Pearson’s <tspan font-style="italic">r</tspan> = 0.66, MAE = 4.53</text>
<path d="M1586.0,160 h2" stroke="#222" stroke-width="0.6"/>
<text x="1585.0" y="162.2" text-anchor="end" font-size="6.2" style="fill:#333">90</text>
<path d="M1586.0,182.5 h2" stroke="#222" stroke-width="0.6"/>
<text x="1585.0" y="184.7" text-anchor="end" font-size="6.2" style="fill:#333">80</text>
<path d="M1586.0,205 h2" stroke="#222" stroke-width="0.6"/>
<text x="1585.0" y="207.2" text-anchor="end" font-size="6.2" style="fill:#333">70</text>
<path d="M1586.0,226.8 h2" stroke="#222" stroke-width="0.6"/>
<text x="1585.0" y="229.0" text-anchor="end" font-size="6.2" style="fill:#333">60</text>
<path d="M1586.0,249.3 h2" stroke="#222" stroke-width="0.6"/>
<text x="1585.0" y="251.5" text-anchor="end" font-size="6.2" style="fill:#333">50</text>
<path d="M1595.9,266 v2" stroke="#222" stroke-width="0.6"/>
<text x="1595.9" y="276.2" text-anchor="middle" font-size="6.2" style="fill:#333">45</text>
<path d="M1613.4,266 v2" stroke="#222" stroke-width="0.6"/>
<text x="1613.4" y="276.2" text-anchor="middle" font-size="6.2" style="fill:#333">50</text>
<path d="M1631.0,266 v2" stroke="#222" stroke-width="0.6"/>
<text x="1631.0" y="276.2" text-anchor="middle" font-size="6.2" style="fill:#333">55</text>
<path d="M1648.5,266 v2" stroke="#222" stroke-width="0.6"/>
<text x="1648.5" y="276.2" text-anchor="middle" font-size="6.2" style="fill:#333">60</text>
<path d="M1666.0,266 v2" stroke="#222" stroke-width="0.6"/>
<text x="1666.0" y="276.2" text-anchor="middle" font-size="6.2" style="fill:#333">65</text>
<path d="M1683.6,266 v2" stroke="#222" stroke-width="0.6"/>
<text x="1683.6" y="276.2" text-anchor="middle" font-size="6.2" style="fill:#333">70</text>
<path d="M1701.1,266 v2" stroke="#222" stroke-width="0.6"/>
<text x="1701.1" y="276.2" text-anchor="middle" font-size="6.2" style="fill:#333">75</text>
<path d="M1718.6,266 v2" stroke="#222" stroke-width="0.6"/>
<text x="1718.6" y="276.2" text-anchor="middle" font-size="6.2" style="fill:#333">80</text>
<text x="1661.2" y="286.8" text-anchor="middle" font-size="9.9" textLength="116.7" lengthAdjust="spacingAndGlyphs" style="fill:#333">Chronological age (years)</text>
<text transform="translate(1573.3,208.7) rotate(-90)" text-anchor="middle" font-size="9.6" textLength="119.5" lengthAdjust="spacingAndGlyphs" style="fill:#333">Predicted brain age (years)</text>
<rect x="1595.0" y="153.2" width="1" height="1" fill="#46256e"/><text x="1601.5" y="155.8" font-size="5.6" textLength="30.5" lengthAdjust="spacingAndGlyphs" style="fill:#333">Data points</text>
<path d="M1593.0,160.7 h6" stroke="#161616" stroke-width="0.8"/><text x="1601.5" y="162.5" font-size="5.6" textLength="54.8" lengthAdjust="spacingAndGlyphs" style="fill:#333">Linear line of best fit</text>
<path d="M1593.0,167 h6" stroke="#cf5f78" stroke-width="0.8"/><text x="1601.5" y="168.9" font-size="5.6" textLength="32.5" lengthAdjust="spacingAndGlyphs" style="fill:#333">Equality line</text>
</g>
<g id="sp3">
<rect x="1772" y="127" width="206" height="170" fill="#ffffff"/>
<g clip-path="url(#cS3)">
<g transform="translate(1869,207) rotate(-32)">
<g filter="url(#fRag)"><rect x="-78" y="-14.5" width="156" height="29.0" rx="39.0" ry="14.5" fill="#4a1a6a"/></g>
<rect x="-73.3" y="-12.3" width="146.6" height="24.6" rx="36.7" ry="12.3" fill="url(#gVir)"/>
<ellipse cx="0" cy="0" rx="28.1" ry="1.9" fill="#e4e04a" opacity="0.55" filter="url(#fBlur1)"/>
<rect x="26.7" y="-15.5" width="1.1" height="1.1" fill="#46256e"/>
<rect x="72.3" y="1.9" width="1.1" height="1.1" fill="#46256e"/>
<rect x="-60.6" y="-2.3" width="1.1" height="1.1" fill="#46256e"/>
<rect x="-65.3" y="7.0" width="1.1" height="1.1" fill="#46256e"/>
<rect x="84.7" y="-5.4" width="1.1" height="1.1" fill="#46256e"/>
<rect x="-69.6" y="16.0" width="1.1" height="1.1" fill="#46256e"/>
<rect x="74.1" y="-10.7" width="1.1" height="1.1" fill="#46256e"/>
<rect x="87.1" y="4.3" width="1.1" height="1.1" fill="#46256e"/>
<rect x="42.0" y="-28.2" width="1.1" height="1.1" fill="#46256e"/>
<rect x="3.3" y="-28.9" width="1.1" height="1.1" fill="#46256e"/>
<rect x="-100.1" y="10.8" width="1.1" height="1.1" fill="#46256e"/>
<rect x="-64.9" y="8.6" width="1.1" height="1.1" fill="#46256e"/>
<rect x="-31.0" y="-16.0" width="1.1" height="1.1" fill="#46256e"/>
<rect x="79.0" y="11.1" width="1.1" height="1.1" fill="#46256e"/>
<rect x="24.2" y="20.4" width="1.1" height="1.1" fill="#46256e"/>
<rect x="-51.9" y="-13.1" width="1.1" height="1.1" fill="#46256e"/>
<rect x="55.0" y="-6.7" width="1.1" height="1.1" fill="#46256e"/>
<rect x="-9.0" y="27.3" width="1.1" height="1.1" fill="#46256e"/>
<rect x="55.2" y="19.9" width="1.1" height="1.1" fill="#46256e"/>
<rect x="61.2" y="9.5" width="1.1" height="1.1" fill="#46256e"/>
<rect x="-56.6" y="19.5" width="1.1" height="1.1" fill="#46256e"/>
<rect x="4.4" y="23.2" width="1.1" height="1.1" fill="#46256e"/>
<rect x="-8.1" y="-20.6" width="1.1" height="1.1" fill="#46256e"/>
<rect x="88.2" y="1.3" width="1.1" height="1.1" fill="#46256e"/>
<rect x="-59.9" y="-15.9" width="1.1" height="1.1" fill="#46256e"/>
<rect x="72.0" y="4.0" width="1.1" height="1.1" fill="#46256e"/>
<rect x="-24.9" y="24.8" width="1.1" height="1.1" fill="#46256e"/>
<rect x="-61.0" y="19.5" width="1.1" height="1.1" fill="#46256e"/>
<rect x="86.9" y="-7.0" width="1.1" height="1.1" fill="#46256e"/>
<rect x="60.9" y="-8.5" width="1.1" height="1.1" fill="#46256e"/>
<rect x="-87.9" y="-3.5" width="1.1" height="1.1" fill="#46256e"/>
<rect x="-77.2" y="-7.5" width="1.1" height="1.1" fill="#46256e"/>
<rect x="-75.8" y="0.8" width="1.1" height="1.1" fill="#46256e"/>
<rect x="60.3" y="5.7" width="1.1" height="1.1" fill="#46256e"/>
<rect x="67.2" y="-4.6" width="1.1" height="1.1" fill="#46256e"/>
<rect x="-4.6" y="-21.2" width="1.1" height="1.1" fill="#46256e"/>
<rect x="-60.3" y="13.4" width="1.1" height="1.1" fill="#46256e"/>
<rect x="64.6" y="-13.0" width="1.1" height="1.1" fill="#46256e"/>
<rect x="47.2" y="14.2" width="1.1" height="1.1" fill="#46256e"/>
<rect x="74.0" y="1.1" width="1.1" height="1.1" fill="#46256e"/>
<rect x="47.5" y="-10.9" width="1.1" height="1.1" fill="#46256e"/>
<rect x="-16.0" y="-20.0" width="1.1" height="1.1" fill="#46256e"/>
<rect x="56.1" y="-6.4" width="1.1" height="1.1" fill="#46256e"/>
<rect x="55.8" y="10.8" width="1.1" height="1.1" fill="#46256e"/>
<rect x="59.4" y="-16.1" width="1.1" height="1.1" fill="#46256e"/>
<rect x="41.8" y="-14.0" width="1.1" height="1.1" fill="#46256e"/>
<rect x="-21.4" y="17.1" width="1.1" height="1.1" fill="#46256e"/>
<rect x="58.4" y="-11.0" width="1.1" height="1.1" fill="#46256e"/>
<rect x="-7.3" y="21.3" width="1.1" height="1.1" fill="#46256e"/>
<rect x="-40.0" y="15.6" width="1.1" height="1.1" fill="#46256e"/>
<rect x="-36.6" y="-15.6" width="1.1" height="1.1" fill="#46256e"/>
<rect x="-31.6" y="-23.8" width="1.1" height="1.1" fill="#46256e"/>
<rect x="45.4" y="16.2" width="1.1" height="1.1" fill="#46256e"/>
<rect x="71.5" y="-12.8" width="1.1" height="1.1" fill="#46256e"/>
<rect x="18.5" y="-20.3" width="1.1" height="1.1" fill="#46256e"/>
<rect x="-5.0" y="18.7" width="1.1" height="1.1" fill="#46256e"/>
<rect x="-68.5" y="-14.1" width="1.1" height="1.1" fill="#46256e"/>
<rect x="8.3" y="-21.8" width="1.1" height="1.1" fill="#46256e"/>
<rect x="40.2" y="-23.1" width="1.1" height="1.1" fill="#46256e"/>
<rect x="-69.3" y="13.9" width="1.1" height="1.1" fill="#46256e"/>
<rect x="-55.4" y="9.1" width="1.1" height="1.1" fill="#46256e"/>
<rect x="-18.3" y="-16.8" width="1.1" height="1.1" fill="#46256e"/>
<rect x="-26.0" y="20.8" width="1.1" height="1.1" fill="#46256e"/>
<rect x="56.7" y="-13.0" width="1.1" height="1.1" fill="#46256e"/>
<rect x="10.1" y="16.1" width="1.1" height="1.1" fill="#46256e"/>
<rect x="73.4" y="16.8" width="1.1" height="1.1" fill="#46256e"/>
<rect x="-73.4" y="3.3" width="1.1" height="1.1" fill="#46256e"/>
<rect x="-77.2" y="-4.4" width="1.1" height="1.1" fill="#46256e"/>
<rect x="-69.9" y="9.4" width="1.1" height="1.1" fill="#46256e"/>
<rect x="-65.4" y="10.2" width="1.1" height="1.1" fill="#46256e"/>
</g>
<path d="M1805.5,253.0 L1934.5,166.0" stroke="#cf5f78" stroke-width="0.8" fill="none" opacity="0.85"/>
<path d="M1805.5,247.0 L1934.5,169.0" stroke="#161616" stroke-width="0.9" fill="none"/>
</g>
<rect x="1797.5" y="150" width="144.4" height="116" fill="none" stroke="#111111" stroke-width="1.1"/>
<rect x="1945.5" y="150" width="7" height="116" fill="url(#gVirBar)" stroke="#222" stroke-width="0.5"/>
<path d="M1952.5,172 h2" stroke="#222" stroke-width="0.6"/>
<text x="1955.3" y="174.2" font-size="6.2" style="fill:#333">80</text>
<path d="M1952.5,195.6 h2" stroke="#222" stroke-width="0.6"/>
<text x="1955.3" y="197.8" font-size="6.2" style="fill:#333">60</text>
<path d="M1952.5,219.5 h2" stroke="#222" stroke-width="0.6"/>
<text x="1955.3" y="221.7" font-size="6.2" style="fill:#333">40</text>
<path d="M1952.5,243.4 h2" stroke="#222" stroke-width="0.6"/>
<text x="1955.3" y="245.6" font-size="6.2" style="fill:#333">20</text>
<text transform="translate(1966.0,208.0) rotate(90)" text-anchor="middle" font-size="9.2" style="fill:#333">Counts</text>
<text x="1869.7" y="135.8" text-anchor="middle" font-size="8" textLength="157" lengthAdjust="spacingAndGlyphs" style="fill:#3a3a3a">SUB_CER_BST predicted vs actual brain age</text>
<text x="1869.7" y="147.5" text-anchor="middle" font-size="8" textLength="106.7" lengthAdjust="spacingAndGlyphs" style="fill:#3a3a3a">Pearson’s <tspan font-style="italic">r</tspan> = 0.93, MAE = 2.24</text>
<path d="M1795.5,168 h2" stroke="#222" stroke-width="0.6"/>
<text x="1794.5" y="170.2" text-anchor="end" font-size="6.2" style="fill:#333">80</text>
<path d="M1795.5,191.5 h2" stroke="#222" stroke-width="0.6"/>
<text x="1794.5" y="193.7" text-anchor="end" font-size="6.2" style="fill:#333">70</text>
<path d="M1795.5,216.4 h2" stroke="#222" stroke-width="0.6"/>
<text x="1794.5" y="218.6" text-anchor="end" font-size="6.2" style="fill:#333">60</text>
<path d="M1795.5,240.7 h2" stroke="#222" stroke-width="0.6"/>
<text x="1794.5" y="242.9" text-anchor="end" font-size="6.2" style="fill:#333">50</text>
<path d="M1795.5,265 h2" stroke="#222" stroke-width="0.6"/>
<text x="1794.5" y="267.2" text-anchor="end" font-size="6.2" style="fill:#333">40</text>
<path d="M1805.4,266 v2" stroke="#222" stroke-width="0.6"/>
<text x="1805.4" y="276.2" text-anchor="middle" font-size="6.2" style="fill:#333">45</text>
<path d="M1822.9,266 v2" stroke="#222" stroke-width="0.6"/>
<text x="1822.9" y="276.2" text-anchor="middle" font-size="6.2" style="fill:#333">50</text>
<path d="M1840.5,266 v2" stroke="#222" stroke-width="0.6"/>
<text x="1840.5" y="276.2" text-anchor="middle" font-size="6.2" style="fill:#333">55</text>
<path d="M1858.0,266 v2" stroke="#222" stroke-width="0.6"/>
<text x="1858.0" y="276.2" text-anchor="middle" font-size="6.2" style="fill:#333">60</text>
<path d="M1875.5,266 v2" stroke="#222" stroke-width="0.6"/>
<text x="1875.5" y="276.2" text-anchor="middle" font-size="6.2" style="fill:#333">65</text>
<path d="M1893.1,266 v2" stroke="#222" stroke-width="0.6"/>
<text x="1893.1" y="276.2" text-anchor="middle" font-size="6.2" style="fill:#333">70</text>
<path d="M1910.6,266 v2" stroke="#222" stroke-width="0.6"/>
<text x="1910.6" y="276.2" text-anchor="middle" font-size="6.2" style="fill:#333">75</text>
<path d="M1928.1,266 v2" stroke="#222" stroke-width="0.6"/>
<text x="1928.1" y="276.2" text-anchor="middle" font-size="6.2" style="fill:#333">80</text>
<text x="1870.7" y="286.8" text-anchor="middle" font-size="9.9" textLength="116.7" lengthAdjust="spacingAndGlyphs" style="fill:#333">Chronological age (years)</text>
<text transform="translate(1782.3,208.7) rotate(-90)" text-anchor="middle" font-size="9.6" textLength="119.5" lengthAdjust="spacingAndGlyphs" style="fill:#333">Predicted brain age (years)</text>
<rect x="1804.5" y="153.2" width="1" height="1" fill="#46256e"/><text x="1811.0" y="155.8" font-size="5.6" textLength="30.5" lengthAdjust="spacingAndGlyphs" style="fill:#333">Data points</text>
<path d="M1802.5,160.7 h6" stroke="#161616" stroke-width="0.8"/><text x="1811.0" y="162.5" font-size="5.6" textLength="54.8" lengthAdjust="spacingAndGlyphs" style="fill:#333">Linear line of best fit</text>
<path d="M1802.5,167 h6" stroke="#cf5f78" stroke-width="0.8"/><text x="1811.0" y="168.9" font-size="5.6" textLength="32.5" lengthAdjust="spacingAndGlyphs" style="fill:#333">Equality line</text>
</g>
</g>
<!-- /scatter -->

<!-- down arrow -->
<path d="M1474.5,297 H1484.5 V329 L1493.5,323 L1479.5,356 L1465.5,323 L1474.5,329 Z" fill="url(#gDown)"/>

<!-- BAG plot -->
<g id="bag">
<g fill="#d3d3d3" stroke="#e6e6e6" stroke-width="1.3" filter="url(#fBlur05)">
<circle cx="1374.6" cy="465.5" r="9.4"/>
<circle cx="1364.9" cy="475.1" r="9.4"/>
<circle cx="1389.7" cy="471.2" r="9.4"/>
<circle cx="1445.4" cy="433.6" r="9.4"/>
<circle cx="1389.2" cy="430.3" r="9.4"/>
<circle cx="1445.9" cy="449.8" r="9.4"/>
<circle cx="1391.0" cy="485.3" r="9.4"/>
<circle cx="1448.8" cy="407.8" r="9.4"/>
<circle cx="1440.2" cy="417.4" r="9.4"/>
<circle cx="1439.0" cy="458.0" r="9.4"/>
<circle cx="1426.0" cy="414.9" r="9.4"/>
<circle cx="1380.6" cy="494.3" r="9.4"/>
<circle cx="1379.4" cy="481.3" r="9.4"/>
<circle cx="1409.0" cy="411.6" r="9.4"/>
<circle cx="1369.0" cy="453.8" r="9.4"/>
<circle cx="1383.0" cy="454.8" r="9.4"/>
<circle cx="1398.4" cy="461.7" r="9.4"/>
<circle cx="1395.8" cy="447.1" r="9.4"/>
<circle cx="1409.3" cy="451.7" r="9.4"/>
<circle cx="1413.6" cy="423.6" r="9.4"/>
<circle cx="1416.9" cy="477.1" r="9.4"/>
<circle cx="1432.6" cy="404.3" r="9.4"/>
<circle cx="1413.9" cy="464.9" r="9.4"/>
<circle cx="1454.4" cy="421.8" r="9.4"/>
<circle cx="1426.2" cy="429.8" r="9.4"/>
<circle cx="1423.5" cy="467.0" r="9.4"/>
<circle cx="1400.0" cy="424.9" r="9.4"/>
<circle cx="1431.7" cy="441.7" r="9.4"/>
<circle cx="1405.0" cy="486.5" r="9.4"/>
<circle cx="1403.2" cy="475.4" r="9.4"/>
<circle cx="1368.2" cy="489.6" r="9.4"/>
<circle cx="1418.2" cy="437.0" r="9.4"/>
<circle cx="1379.9" cy="443.3" r="9.4"/>
<circle cx="1405.2" cy="436.8" r="9.4"/>
<circle cx="1425.0" cy="454.2" r="9.4"/>
</g>
<path d="M1335.5,528.5 L1488.5,375.5" stroke="#111111" stroke-width="3.2" fill="none"/>
<circle cx="1421.3" cy="405.8" r="26" fill="url(#gGlowR)"/>
<circle cx="1396.5" cy="490.4" r="26" fill="url(#gGlowB)"/>
<circle cx="1421.3" cy="405.8" r="8.3" fill="#c2141b" stroke="#fbe4e4" stroke-width="1.5"/>
<circle cx="1396.5" cy="490.4" r="8.3" fill="#1672c6" stroke="#e4f8fb" stroke-width="1.5"/>
<path d="M1322.3,356 V546.8 H1551" stroke="#3f4b5d" stroke-width="4.2" fill="none"/>
<path d="M1322.3,343.5 L1316.3,359.5 L1322.3,356.5 L1328.3,359.5 Z" fill="#3f4b5d"/>
<path d="M1564,546.8 L1548,540.8 L1551,546.8 L1548,552.8 Z" fill="#3f4b5d"/>
<text x="1355.8" y="371.5" font-size="25" textLength="212.5" lengthAdjust="spacingAndGlyphs" style="fill:#b3222a">Accelerated aging</text>
<text x="1393.4" y="532.3" font-size="25" textLength="165.6" lengthAdjust="spacingAndGlyphs" style="fill:#2b7ea8">Delayed aging</text>
<text x="1520.3" y="462.8" font-size="25" textLength="233.4" lengthAdjust="spacingAndGlyphs">Brain age gap (BAG)</text>
<text x="1409" y="577.2" font-size="25" textLength="43.5" lengthAdjust="spacingAndGlyphs">Age</text>
<text transform="translate(1302,526) rotate(-90)" font-size="25" textLength="162" lengthAdjust="spacingAndGlyphs">Predicted age</text>
</g>

<!-- adiposity icons -->
<g id="adip">
<circle cx="1074.6" cy="665" r="41" fill="#f6921e"/>
<circle cx="985" cy="741.4" r="41" fill="#e02127"/>
<circle cx="1154" cy="743.5" r="41" fill="#40ae49"/>
<circle cx="1071.7" cy="814.4" r="41.5" fill="#a9582a"/>
<!-- TFP torso icon -->
<g fill="none" stroke="#fff0cc" stroke-width="2.4" stroke-linecap="round" stroke-linejoin="round">
<path d="M1045,640 C1045,648 1046,652 1047,656 C1049,662 1051,668 1051,674 C1051,682 1050,688 1050,694"/>
<path d="M1049.5,645 C1051,652 1054,656 1055,660 C1056,668 1055,672 1054.5,678 C1054,684 1053,690 1053,694"/>
<path d="M1047,647 H1055"/>
<path d="M1102,640 C1102,648 1101,652 1100,656 C1098,662 1096,668 1096,674 C1096,682 1097,688 1097,694"/>
<path d="M1097.5,645 C1096,652 1093,656 1092,660 C1091,668 1092,672 1092.5,678 C1093,684 1094,690 1094,694"/>
<path d="M1092,647 H1100"/>
<path d="M1055,661 C1062,659.5 1068,660 1073.5,661 C1079,660 1086,659.5 1093,661"/>
<path d="M1073.5,643 V688"/>
<path d="M1065,692 H1082"/>
<path d="M1063,670 C1060.5,676 1060.5,682 1061.5,688"/>
<path d="M1085.5,670 C1088,676 1088,682 1087,688"/>
<path d="M1089,690 H1096.5"/>
<circle cx="1056" cy="656" r="1.8" fill="#fff0cc" stroke="none"/>
<circle cx="1091.5" cy="656" r="1.8" fill="#fff0cc" stroke="none"/>
</g>
<!-- AFP arm icon -->
<g fill="none" stroke="#fde9e6" stroke-width="2.4" stroke-linecap="round" stroke-linejoin="round">
<path d="M964,715.5 C961,726 957,738 955.5,747 C955,752 955.5,755 958,756 C968,757 978,759 988,761 C998,762.5 1008,762.5 1016,762.5"/>
<path d="M977,714.5 C976.5,724 976,732 975.3,739 C978,737.5 982,737 987,737 C997,737 1008,738.5 1017,741"/>
<path d="M979,750.5 C990,753 1004,753.5 1015,752.5"/>
<path d="M958.5,740 H964"/>
<path d="M1000,739.5 C1006,740 1012,741.5 1016.5,743.5"/>
<path d="M975.3,739 C973,742 971,744 968,745"/>
</g>
<!-- LFP hips icon -->
<g fill="none" stroke="#e9fbd6" stroke-width="2.4" stroke-linecap="round" stroke-linejoin="round">
<path d="M1130.5,713 C1126,722 1123.5,730 1123.7,738 C1124,750 1126,760 1127.7,769.5"/>
<path d="M1133.6,716 C1130.5,724 1128.7,732 1128.7,740"/>
<path d="M1131.6,713.7 H1142.6"/>
<path d="M1171.5,712 C1175,718 1177.5,724 1177.5,730 C1178,744 1174,758 1171.5,769.5"/>
<path d="M1174.5,721.5 C1179,728 1181,734 1180.5,740 C1180,752 1178,762 1176.5,769.5"/>
<path d="M1166.5,719.7 H1174.5"/>
<path d="M1168.5,725.6 H1176.5"/>
<path d="M1144.6,740.6 C1147,743 1149.5,743.8 1151.6,743.8 C1154,743.8 1156.5,743 1158.6,740.6"/>
<path d="M1150.6,745 L1146.6,768.5"/>
<path d="M1153.2,745 L1156.6,768.5"/>
<ellipse cx="1151.6" cy="729.2" rx="0.9" ry="1.8" fill="#e9fbd6" stroke="none"/>
</g>
<!-- VAT torso profile icon -->
<g stroke-linecap="round" stroke-linejoin="round">
<path d="M1060.3,798.6 L1086.8,798.6 L1083.4,825.6 L1061.5,826.9 C1062,823 1066.4,819.5 1066.4,815.6 C1066.4,811 1061,806 1060.3,798.6 Z" fill="#fff3ea" stroke="none"/>
<path d="M1071.6,801.6 L1085,801.6 L1082,823 L1072,823.5 C1075,819 1076,815 1075.4,812.8 C1075,808 1073.5,804.5 1071.6,801.6 Z" fill="#a9582a" stroke="none"/>
<path d="M1062.2,780.7 C1065,778.5 1069,778 1073.5,778.8 C1079,779.5 1083,781.5 1084.9,784.4 C1086.5,789 1087,794 1086.8,799.5 C1086,808 1084,815 1083,822.2 C1082.5,832 1082,842 1082,851.5 C1075,853 1068,853 1062.2,852.4 C1061.5,848 1060.5,843.5 1060.3,839.2 C1060,835 1060.5,831 1061.2,827.9 C1062,824 1066,820 1066,816.5 C1066,812 1061.5,808 1060.3,803.3 C1059,799 1058.4,796 1058.4,792 C1058.4,787 1059.5,783 1062.2,780.7 Z" fill="none" stroke="#ffe4cf" stroke-width="1.8"/>
<path d="M1065.5,782 C1063.5,786 1063,790 1064,796" fill="none" stroke="#ffe4cf" stroke-width="1.6"/>
<path d="M1062,786 h3 M1062,792 h3" fill="none" stroke="#ffe4cf" stroke-width="1.2"/>
</g>

<text x="1054.8" y="619.8" font-size="25" textLength="40.2" lengthAdjust="spacingAndGlyphs">TFP</text>
<text x="964.5" y="699.4" font-size="25" textLength="43.3" lengthAdjust="spacingAndGlyphs">AFP</text>
<text x="1135" y="699.4" font-size="25" textLength="39.4" lengthAdjust="spacingAndGlyphs">LFP</text>
<text x="1048.7" y="770" font-size="25" textLength="45.7" lengthAdjust="spacingAndGlyphs">VAT</text>
<text x="963.3" y="905.6" font-size="25" textLength="215.3" lengthAdjust="spacingAndGlyphs">Regional adiposity</text>
</g>

<!-- effect arrows -->
<g id="effects">
<path d="M1175.5,640.5 L1255,587.5 L1248,578.5 L1278,577.3 L1263.5,603.5 L1260,594.5 L1180.5,648.5 Z" fill="url(#gInd1)"/>
<path d="M1622,564 L1697,624 L1702,614.5 L1716.6,646 L1682,640.5 L1691.5,632.5 L1616,572 Z" fill="url(#gInd2)"/>
<path d="M1250,737 H1693 L1689,727 L1723,741.5 L1689,756 L1693,746 H1250 Z" fill="url(#gDir)"/>
<text x="1309.7" y="658" font-size="25" textLength="272.6" lengthAdjust="spacingAndGlyphs">Indirect effect via BAGs</text>
<text x="1417" y="781.8" font-size="25" textLength="143" lengthAdjust="spacingAndGlyphs">Direct effect</text>
</g>

<!-- cognition head -->
<g id="head">
<rect x="1729.5" y="591" width="270.5" height="282.5" fill="#fdfdfd"/>
<path d="M1916,624.5 C1930,624 1943,626.5 1953,632 C1966,639 1975,650 1980.5,663 C1986,677 1989.5,692 1990,707 C1990.5,720 1986,733 1988,745 C1990,756 1997,765 2000,775.3 C1996,780 1990,781.5 1986,783 C1985,789 1987,795 1986,800.5 C1983,811 1976,819 1972,828.8 C1970.5,834 1970.5,838 1970.4,843 C1952,847.5 1934,848.5 1915.3,850.9 C1911,856 1909,862 1905.8,868.2 L1800.3,868.2 C1806,856 1811,844 1814.5,832 C1817.5,823 1820.5,815 1820.8,806.8 C1821,798 1816,789 1811.3,781.6 C1804,768 1794,755 1786,742" fill="none" stroke="#2a6f8f" stroke-width="4.8" stroke-linejoin="round" stroke-linecap="round"/>
<path d="M1736,618 C1742,608 1750,605 1760,605 C1778,604 1796,612 1812,609 C1824,606 1834,597 1846.6,594 C1860,591 1878,591 1890,596 C1900,600 1908,606 1911.6,613.7 C1914,618 1916,621 1916,624.5 C1913,628 1906,629 1905,633 C1908,641 1917,646 1922.4,652.6 C1928,659 1932,666 1933,674 C1934,684 1931,694 1924.6,700 C1915,707 1900,706 1890,711 C1881,716 1878,726 1870.5,730.6 C1850,738 1825,739 1803,740 C1794,740 1784,740 1777,737 C1763,731 1750,724 1742.6,713 C1737,705 1733,696 1734,687 C1734,680 1735,675 1738,670 C1740,665 1746,662 1747,657 C1746,649 1736,643 1734,635 C1733,629 1733,623 1736,618 Z" fill="#ffffff" stroke="#2a6f8f" stroke-width="4.8" stroke-linejoin="round"/>
<text x="1777.3" y="637.5" font-size="13.5" textLength="117" lengthAdjust="spacingAndGlyphs" style="fill:#62b9a8">Executive function</text>
<text x="1754.8" y="661.3" font-size="26" textLength="120" lengthAdjust="spacingAndGlyphs" style="fill:#5c4575">Reasoning</text>
<text x="1750" y="683.8" font-size="20" textLength="158" lengthAdjust="spacingAndGlyphs" style="fill:#5a6b80">Processing speed</text>
<text x="1761.3" y="705.5" font-size="20" textLength="73.2" lengthAdjust="spacingAndGlyphs" style="fill:#8fd08c">Memory</text>
<text x="1792.5" y="903" font-size="25" textLength="113.5" lengthAdjust="spacingAndGlyphs">Cognition</text>
</g>
</g>

<!--RIGHT-->

</svg>
</body>
</html>
